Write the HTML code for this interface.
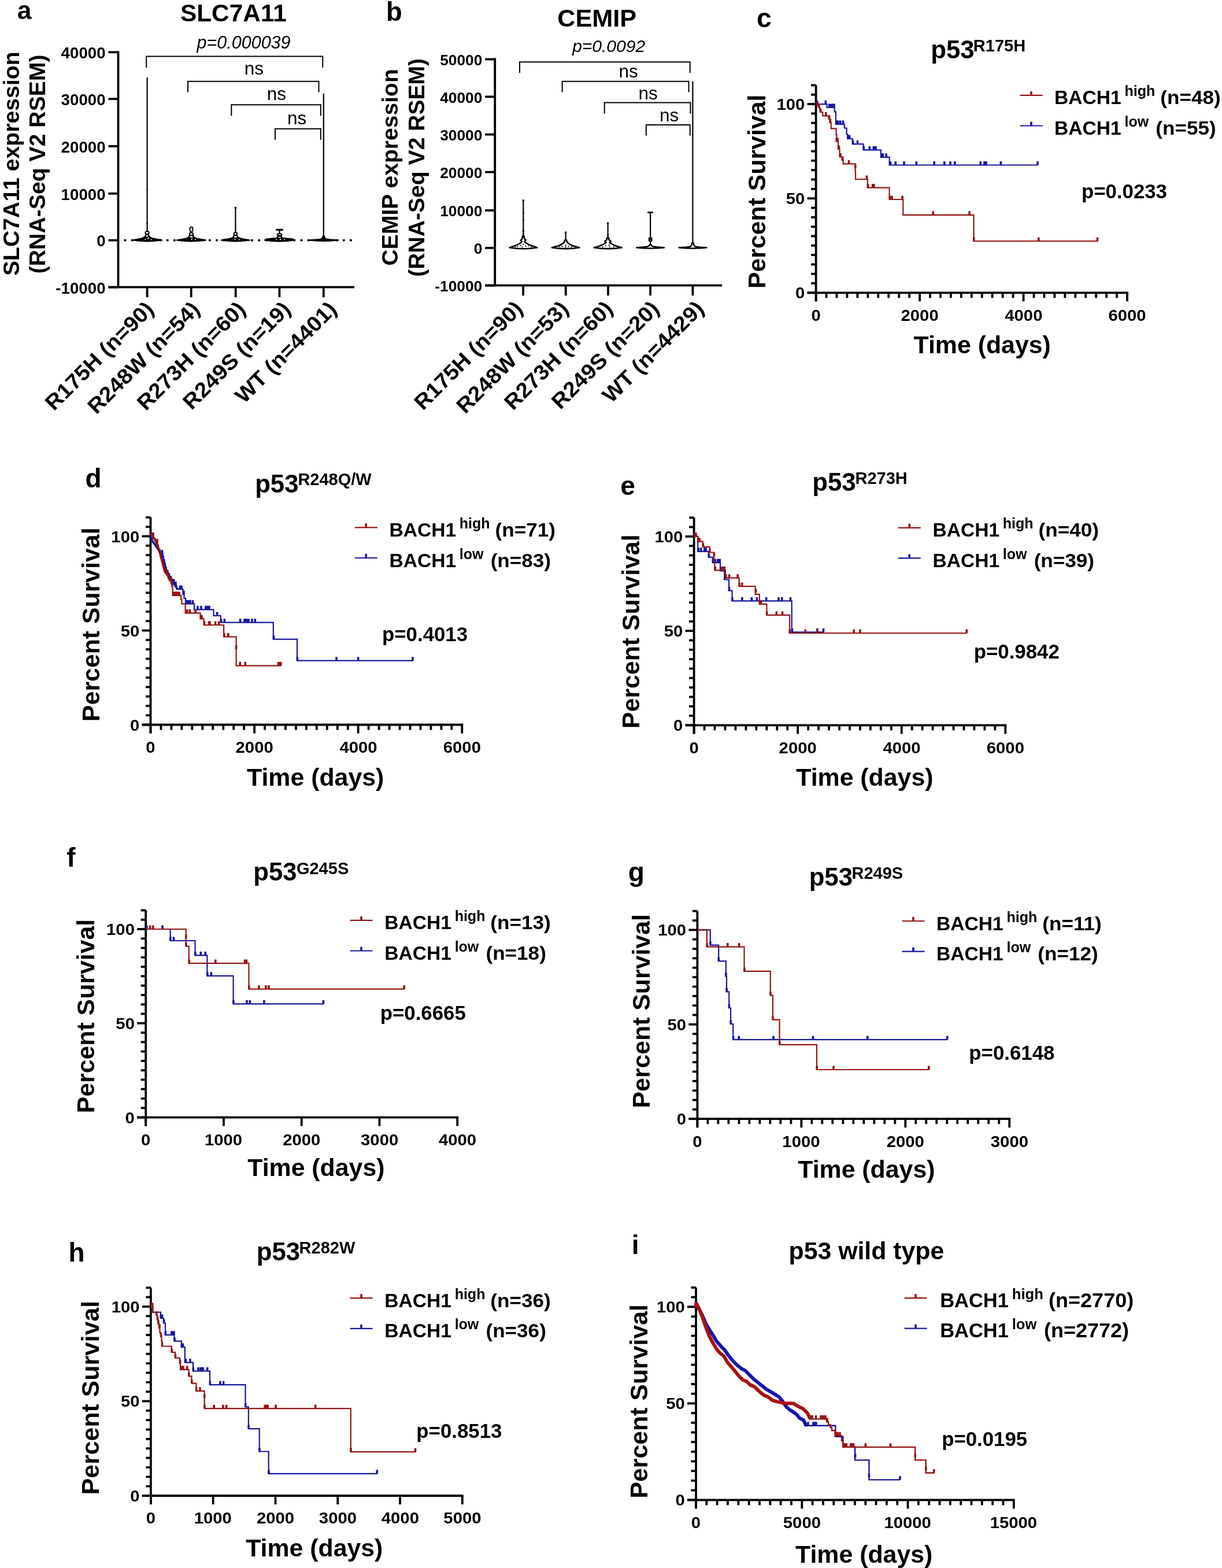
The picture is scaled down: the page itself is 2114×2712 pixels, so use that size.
<!DOCTYPE html>
<html><head><meta charset="utf-8"><title>Figure</title>
<style>
html,body{margin:0;padding:0;background:#fff;overflow:hidden;}
svg{display:block;}
text{font-family:"Liberation Sans",Arial,Helvetica,sans-serif;}
</style></head><body>
<svg width="2114" height="2712" viewBox="0 0 2114 2712">
<rect width="2114" height="2712" fill="#fff"/>
<line x1="204.50" y1="88.40" x2="204.50" y2="496.70" stroke="#000" stroke-width="3.8" stroke-linecap="butt"/>
<line x1="187.50" y1="496.70" x2="613.00" y2="496.70" stroke="#000" stroke-width="3.8" stroke-linecap="butt"/>
<line x1="187.50" y1="496.70" x2="204.50" y2="496.70" stroke="#000" stroke-width="3.8" stroke-linecap="butt"/>
<text x="96.32" y="507.50" style="font-size:27.70px;font-weight:bold">-10000</text>
<line x1="187.50" y1="415.60" x2="204.50" y2="415.60" stroke="#000" stroke-width="3.8" stroke-linecap="butt"/>
<text x="167.23" y="426.40" style="font-size:27.70px;font-weight:bold">0</text>
<line x1="187.50" y1="334.80" x2="204.50" y2="334.80" stroke="#000" stroke-width="3.8" stroke-linecap="butt"/>
<text x="105.60" y="345.60" style="font-size:27.70px;font-weight:bold">10000</text>
<line x1="187.50" y1="252.90" x2="204.50" y2="252.90" stroke="#000" stroke-width="3.8" stroke-linecap="butt"/>
<text x="105.60" y="263.70" style="font-size:27.70px;font-weight:bold">20000</text>
<line x1="187.50" y1="171.10" x2="204.50" y2="171.10" stroke="#000" stroke-width="3.8" stroke-linecap="butt"/>
<text x="105.60" y="181.90" style="font-size:27.70px;font-weight:bold">30000</text>
<line x1="187.50" y1="90.30" x2="204.50" y2="90.30" stroke="#000" stroke-width="3.8" stroke-linecap="butt"/>
<text x="105.60" y="101.10" style="font-size:27.70px;font-weight:bold">40000</text>
<line x1="254.60" y1="496.70" x2="254.60" y2="514.20" stroke="#000" stroke-width="3.8" stroke-linecap="butt"/>
<line x1="330.70" y1="496.70" x2="330.70" y2="514.20" stroke="#000" stroke-width="3.8" stroke-linecap="butt"/>
<line x1="407.70" y1="496.70" x2="407.70" y2="514.20" stroke="#000" stroke-width="3.8" stroke-linecap="butt"/>
<line x1="483.40" y1="496.70" x2="483.40" y2="514.20" stroke="#000" stroke-width="3.8" stroke-linecap="butt"/>
<line x1="559.80" y1="496.70" x2="559.80" y2="514.20" stroke="#000" stroke-width="3.8" stroke-linecap="butt"/>
<text transform="translate(268.10,537.00) rotate(-45) scale(1.0500,1)" text-anchor="end" style="font-size:37.00px;font-weight:bold">R175H (n=90)</text>
<text transform="translate(347.60,537.00) rotate(-45) scale(1.0500,1)" text-anchor="end" style="font-size:37.00px;font-weight:bold">R248W (n=54)</text>
<text transform="translate(426.90,537.00) rotate(-45) scale(1.0500,1)" text-anchor="end" style="font-size:37.00px;font-weight:bold">R273H (n=60)</text>
<text transform="translate(504.80,537.00) rotate(-45) scale(1.0500,1)" text-anchor="end" style="font-size:37.00px;font-weight:bold">R249S (n=19)</text>
<text transform="translate(584.60,537.00) rotate(-45) scale(1.0500,1)" text-anchor="end" style="font-size:37.00px;font-weight:bold">WT (n=4401)</text>
<text transform="translate(33.00,477.05) rotate(-90)" style="font-size:39.20px;font-weight:bold">SLC7A11 expression</text>
<text transform="translate(78.30,473.23) rotate(-90)" style="font-size:39.20px;font-weight:bold">(RNA-Seq V2 RSEM)</text>
<text x="29.66" y="32.60" style="font-size:44.50px;font-weight:bold" fill="#000">a</text>
<text x="311.93" y="37.10" style="font-size:42.40px;font-weight:bold" fill="#000">SLC7A11</text>
<text x="340.56" y="84.00" style="font-size:30.50px;font-style:italic" fill="#000">p=0.000039</text>
<path d="M253.2,117.0 L253.2,97.6 L558.2,97.6 L558.2,117.0" stroke="#000" stroke-width="2.0" fill="none" />
<path d="M325.0,159.6 L325.0,140.7 L551.5,140.7 L551.5,159.6" stroke="#000" stroke-width="2.0" fill="none" />
<path d="M400.3,200.3 L400.3,181.3 L554.8,181.3 L554.8,200.3" stroke="#000" stroke-width="2.0" fill="none" />
<path d="M476.0,241.8 L476.0,222.8 L554.8,222.8 L554.8,241.8" stroke="#000" stroke-width="2.0" fill="none" />
<text x="422.85" y="128.70" style="font-size:31.50px;font-weight:normal" fill="#000">ns</text>
<text x="461.85" y="173.40" style="font-size:31.50px;font-weight:normal" fill="#000">ns</text>
<text x="496.95" y="215.10" style="font-size:31.50px;font-weight:normal" fill="#000">ns</text>
<line x1="856.20" y1="100.60" x2="856.20" y2="493.70" stroke="#000" stroke-width="3.8" stroke-linecap="butt"/>
<line x1="839.20" y1="493.70" x2="1249.00" y2="493.70" stroke="#000" stroke-width="3.8" stroke-linecap="butt"/>
<line x1="839.20" y1="493.70" x2="856.20" y2="493.70" stroke="#000" stroke-width="3.8" stroke-linecap="butt"/>
<text x="752.33" y="503.96" style="font-size:26.30px;font-weight:bold">-10000</text>
<line x1="839.20" y1="428.80" x2="856.20" y2="428.80" stroke="#000" stroke-width="3.8" stroke-linecap="butt"/>
<text x="819.66" y="439.06" style="font-size:26.30px;font-weight:bold">0</text>
<line x1="839.20" y1="363.90" x2="856.20" y2="363.90" stroke="#000" stroke-width="3.8" stroke-linecap="butt"/>
<text x="761.14" y="374.16" style="font-size:26.30px;font-weight:bold">10000</text>
<line x1="839.20" y1="297.60" x2="856.20" y2="297.60" stroke="#000" stroke-width="3.8" stroke-linecap="butt"/>
<text x="761.14" y="307.86" style="font-size:26.30px;font-weight:bold">20000</text>
<line x1="839.20" y1="232.60" x2="856.20" y2="232.60" stroke="#000" stroke-width="3.8" stroke-linecap="butt"/>
<text x="761.14" y="242.86" style="font-size:26.30px;font-weight:bold">30000</text>
<line x1="839.20" y1="167.30" x2="856.20" y2="167.30" stroke="#000" stroke-width="3.8" stroke-linecap="butt"/>
<text x="761.14" y="177.56" style="font-size:26.30px;font-weight:bold">40000</text>
<line x1="839.20" y1="102.50" x2="856.20" y2="102.50" stroke="#000" stroke-width="3.8" stroke-linecap="butt"/>
<text x="761.14" y="112.76" style="font-size:26.30px;font-weight:bold">50000</text>
<line x1="905.10" y1="493.70" x2="905.10" y2="511.20" stroke="#000" stroke-width="3.8" stroke-linecap="butt"/>
<line x1="978.70" y1="493.70" x2="978.70" y2="511.20" stroke="#000" stroke-width="3.8" stroke-linecap="butt"/>
<line x1="1052.00" y1="493.70" x2="1052.00" y2="511.20" stroke="#000" stroke-width="3.8" stroke-linecap="butt"/>
<line x1="1125.10" y1="493.70" x2="1125.10" y2="511.20" stroke="#000" stroke-width="3.8" stroke-linecap="butt"/>
<line x1="1198.40" y1="493.70" x2="1198.40" y2="511.20" stroke="#000" stroke-width="3.8" stroke-linecap="butt"/>
<text transform="translate(906.40,536.20) rotate(-45) scale(1.0500,1)" text-anchor="end" style="font-size:37.00px;font-weight:bold">R175H (n=90)</text>
<text transform="translate(985.60,536.20) rotate(-45) scale(1.0500,1)" text-anchor="end" style="font-size:37.00px;font-weight:bold">R248W (n=53)</text>
<text transform="translate(1062.20,536.20) rotate(-45) scale(1.0500,1)" text-anchor="end" style="font-size:37.00px;font-weight:bold">R273H (n=60)</text>
<text transform="translate(1142.50,536.20) rotate(-45) scale(1.0500,1)" text-anchor="end" style="font-size:37.00px;font-weight:bold">R249S (n=20)</text>
<text transform="translate(1219.80,536.20) rotate(-45) scale(1.0500,1)" text-anchor="end" style="font-size:37.00px;font-weight:bold">WT (n=4429)</text>
<text transform="translate(688.00,459.39) rotate(-90)" style="font-size:39.10px;font-weight:bold">CEMIP expression</text>
<text transform="translate(734.30,478.65) rotate(-90)" style="font-size:39.10px;font-weight:bold">(RNA-Seq V2 RSEM)</text>
<text x="668.06" y="36.40" style="font-size:45.30px;font-weight:bold" fill="#000">b</text>
<text x="964.27" y="45.50" style="font-size:43.20px;font-weight:bold" fill="#000">CEMIP</text>
<text x="990.15" y="90.10" style="font-size:30.00px;font-style:italic" fill="#000">p=0.0092</text>
<path d="M899.0,126.1 L899.0,107.2 L1193.7,107.2 L1193.7,126.1" stroke="#000" stroke-width="2.0" fill="none" />
<path d="M972.7,159.6 L972.7,140.7 L1191.5,140.7 L1191.5,159.6" stroke="#000" stroke-width="2.0" fill="none" />
<path d="M1045.7,196.5 L1045.7,177.5 L1194.4,177.5 L1194.4,196.5" stroke="#000" stroke-width="2.0" fill="none" />
<path d="M1117.8,234.4 L1117.8,216.1 L1193.7,216.1 L1193.7,234.4" stroke="#000" stroke-width="2.0" fill="none" />
<text x="1070.45" y="133.70" style="font-size:31.50px;font-weight:normal" fill="#000">ns</text>
<text x="1104.55" y="171.60" style="font-size:31.50px;font-weight:normal" fill="#000">ns</text>
<text x="1140.95" y="209.60" style="font-size:31.50px;font-weight:normal" fill="#000">ns</text>
<circle cx="216.5" cy="415.6" r="2.1" fill="#000"/>
<circle cx="228.7" cy="415.6" r="2.1" fill="#000"/>
<circle cx="240.9" cy="415.6" r="2.1" fill="#000"/>
<circle cx="253.1" cy="415.6" r="2.1" fill="#000"/>
<circle cx="265.3" cy="415.6" r="2.1" fill="#000"/>
<circle cx="277.5" cy="415.6" r="2.1" fill="#000"/>
<circle cx="289.7" cy="415.6" r="2.1" fill="#000"/>
<circle cx="301.9" cy="415.6" r="2.1" fill="#000"/>
<circle cx="314.1" cy="415.6" r="2.1" fill="#000"/>
<circle cx="326.3" cy="415.6" r="2.1" fill="#000"/>
<circle cx="338.5" cy="415.6" r="2.1" fill="#000"/>
<circle cx="350.7" cy="415.6" r="2.1" fill="#000"/>
<circle cx="362.9" cy="415.6" r="2.1" fill="#000"/>
<circle cx="375.1" cy="415.6" r="2.1" fill="#000"/>
<circle cx="387.3" cy="415.6" r="2.1" fill="#000"/>
<circle cx="399.5" cy="415.6" r="2.1" fill="#000"/>
<circle cx="411.7" cy="415.6" r="2.1" fill="#000"/>
<circle cx="423.9" cy="415.6" r="2.1" fill="#000"/>
<circle cx="436.1" cy="415.6" r="2.1" fill="#000"/>
<circle cx="448.3" cy="415.6" r="2.1" fill="#000"/>
<circle cx="460.5" cy="415.6" r="2.1" fill="#000"/>
<circle cx="472.7" cy="415.6" r="2.1" fill="#000"/>
<circle cx="484.9" cy="415.6" r="2.1" fill="#000"/>
<circle cx="497.1" cy="415.6" r="2.1" fill="#000"/>
<circle cx="509.3" cy="415.6" r="2.1" fill="#000"/>
<circle cx="521.5" cy="415.6" r="2.1" fill="#000"/>
<circle cx="533.7" cy="415.6" r="2.1" fill="#000"/>
<circle cx="545.9" cy="415.6" r="2.1" fill="#000"/>
<circle cx="558.1" cy="415.6" r="2.1" fill="#000"/>
<circle cx="570.3" cy="415.6" r="2.1" fill="#000"/>
<circle cx="582.5" cy="415.6" r="2.1" fill="#000"/>
<circle cx="594.7" cy="415.6" r="2.1" fill="#000"/>
<circle cx="606.9" cy="415.6" r="2.1" fill="#000"/>
<path d="M229.1,415.4 Q254.6,419.0 280.1,415.4 L270.6,413.8 L263.6,412.4 L259.6,410.4 L257.2,407.9 L256.0,405.4 L253.2,405.4 L252.0,407.9 L249.6,410.4 L245.6,412.4 L238.6,413.8 Z" fill="#000" stroke="#000" stroke-width="2.4" stroke-linejoin="round"/><line x1="254.6" y1="405.4" x2="254.6" y2="134.0" stroke="#000" stroke-width="2.2"/>
<circle cx="256.5" cy="412.0" r="1.4" fill="#fff"/>
<circle cx="251.5" cy="414.0" r="1.0" fill="#fff"/>
<circle cx="262.0" cy="414.5" r="1.0" fill="#fff"/>
<ellipse cx="254.6" cy="402.6" rx="3.2" ry="2.6" fill="#fff" stroke="#000" stroke-width="2.0"/>
<ellipse cx="254.6" cy="408.0" rx="2.6" ry="2.6" fill="#fff" stroke="#000" stroke-width="2.0"/>
<circle cx="254.6" cy="386.2" r="1.4" fill="#000"/>
<circle cx="254.6" cy="327.5" r="1.2" fill="#000"/>
<path d="M306.0,415.4 Q331.0,419.0 356.0,415.4 L346.0,413.8 L339.0,412.4 L335.5,410.4 L333.5,406.4 L332.5,402.9 L329.5,402.9 L328.5,406.4 L326.5,410.4 L323.0,412.4 L316.0,413.8 Z" fill="#000" stroke="#000" stroke-width="2.4" stroke-linejoin="round"/>
<circle cx="331.5" cy="413.0" r="1.5" fill="#fff"/>
<circle cx="338.0" cy="414.5" r="1.0" fill="#fff"/>
<ellipse cx="331.0" cy="396.8" rx="2.6" ry="4.2" fill="#fff" stroke="#000" stroke-width="2.0"/>
<ellipse cx="331.0" cy="405.0" rx="3.0" ry="2.4" fill="#fff" stroke="#000" stroke-width="2.0"/>
<ellipse cx="331.0" cy="409.5" rx="3.6" ry="2.2" fill="#fff" stroke="#000" stroke-width="2.0"/>
<path d="M382.9,415.4 Q407.4,419.0 431.9,415.4 L422.4,413.8 L415.9,412.4 L412.4,411.2 L409.4,408.9 L408.7,406.4 L406.1,406.4 L405.4,408.9 L402.4,411.2 L398.9,412.4 L392.4,413.8 Z" fill="#000" stroke="#000" stroke-width="2.4" stroke-linejoin="round"/><line x1="407.4" y1="406.4" x2="407.4" y2="359.0" stroke="#000" stroke-width="2.2"/>
<circle cx="406.5" cy="413.0" r="1.5" fill="#fff"/>
<circle cx="414.0" cy="414.5" r="1.0" fill="#fff"/>
<ellipse cx="407.4" cy="404.5" rx="2.8" ry="2.4" fill="#fff" stroke="#000" stroke-width="2.0"/>
<ellipse cx="407.4" cy="409.4" rx="3.6" ry="2.4" fill="#fff" stroke="#000" stroke-width="2.0"/>
<circle cx="407.4" cy="359.2" r="1.8" fill="#000"/>
<path d="M458.1,415.4 Q483.6,419.4 509.1,415.4 L505.6,413.4 L494.6,412.4 L488.6,412.0 L485.6,411.4 L484.8,410.4 L482.4,410.4 L481.6,411.4 L478.6,412.0 L472.6,412.4 L461.6,413.4 Z" fill="#000" stroke="#000" stroke-width="2.4" stroke-linejoin="round"/><line x1="483.6" y1="410.4" x2="483.6" y2="397.6" stroke="#000" stroke-width="2.2"/>
<circle cx="485.0" cy="414.0" r="1.2" fill="#fff"/>
<circle cx="478.0" cy="414.2" r="1.0" fill="#fff"/>
<circle cx="492.0" cy="414.2" r="1.0" fill="#fff"/>
<line x1="478.8" y1="397.4" x2="488.4" y2="397.4" stroke="#000" stroke-width="3.2" stroke-linecap="round"/>
<ellipse cx="483.6" cy="405.7" rx="4.0" ry="1.8" fill="#fff" stroke="#000" stroke-width="2.0"/>
<ellipse cx="483.6" cy="410.2" rx="4.0" ry="1.8" fill="#fff" stroke="#000" stroke-width="2.0"/>
<path d="M534.3,415.4 Q559.8,418.2 585.3,415.4 L571.8,414.4 L564.8,413.6 L562.0,411.9 L561.0,408.4 L558.6,408.4 L557.6,411.9 L554.8,413.6 L547.8,414.4 Z" fill="#000" stroke="#000" stroke-width="2.2" stroke-linejoin="round"/><line x1="559.8" y1="408.4" x2="559.8" y2="161.9" stroke="#000" stroke-width="2.2"/>
<path d="M881.5,428.2 Q905.3,432.4 929.1,428.2 L921.3,425.6 L914.3,422.6 L909.5,419.9 L907.5,417.7 L909.9,415.5 L907.3,413.0 L906.6,408.2 L904.0,408.2 L903.3,413.0 L900.7,415.5 L903.1,417.7 L901.1,419.9 L896.3,422.6 L889.3,425.6 Z" fill="#fff" stroke="#000" stroke-width="2.6" stroke-linejoin="round"/><line x1="905.3" y1="408.2" x2="905.3" y2="345.9" stroke="#000" stroke-width="2.2"/>
<circle cx="895.3" cy="426.2" r="1.1" fill="#000"/>
<circle cx="900.3" cy="424.7" r="1.1" fill="#000"/>
<circle cx="905.3" cy="422.7" r="1.1" fill="#000"/>
<circle cx="909.3" cy="425.7" r="1.1" fill="#000"/>
<circle cx="914.3" cy="425.2" r="1.1" fill="#000"/>
<circle cx="903.3" cy="427.0" r="1.1" fill="#000"/>
<circle cx="919.3" cy="426.7" r="1.1" fill="#000"/>
<circle cx="891.3" cy="426.7" r="1.1" fill="#000"/>
<circle cx="905.3" cy="399.4" r="1.8" fill="#000"/>
<circle cx="905.3" cy="380.0" r="1.6" fill="#000"/>
<circle cx="905.3" cy="368.0" r="1.5" fill="#000"/>
<circle cx="905.3" cy="346.8" r="1.8" fill="#000"/>
<circle cx="905.3" cy="404.4" r="1.6" fill="#000"/>
<path d="M954.8,428.2 Q978.6,432.0 1002.4,428.2 L991.6,425.3 L984.6,422.0 L981.0,418.7 L980.0,415.2 L977.2,415.2 L976.2,418.7 L972.6,422.0 L965.6,425.3 Z" fill="#fff" stroke="#000" stroke-width="2.6" stroke-linejoin="round"/><line x1="978.6" y1="415.2" x2="978.6" y2="401.1" stroke="#000" stroke-width="2.2"/>
<circle cx="972.6" cy="426.2" r="1.1" fill="#000"/>
<circle cx="978.6" cy="424.2" r="1.1" fill="#000"/>
<circle cx="983.6" cy="426.2" r="1.1" fill="#000"/>
<circle cx="978.6" cy="427.2" r="1.1" fill="#000"/>
<circle cx="967.6" cy="426.7" r="1.1" fill="#000"/>
<circle cx="988.6" cy="426.9" r="1.1" fill="#000"/>
<circle cx="978.6" cy="402.0" r="1.8" fill="#000"/>
<path d="M1027.6,428.2 Q1051.6,432.0 1075.6,428.2 L1065.6,425.5 L1059.1,422.4 L1054.6,419.6 L1057.0,417.2 L1053.6,414.8 L1052.9,411.2 L1050.3,411.2 L1049.6,414.8 L1046.2,417.2 L1048.6,419.6 L1044.1,422.4 L1037.6,425.5 Z" fill="#fff" stroke="#000" stroke-width="2.6" stroke-linejoin="round"/><line x1="1051.6" y1="411.2" x2="1051.6" y2="385.3" stroke="#000" stroke-width="2.2"/>
<circle cx="1047.6" cy="425.2" r="1.1" fill="#000"/>
<circle cx="1053.6" cy="423.7" r="1.1" fill="#000"/>
<circle cx="1054.6" cy="426.6" r="1.1" fill="#000"/>
<circle cx="1042.6" cy="427.0" r="1.1" fill="#000"/>
<circle cx="1061.6" cy="426.8" r="1.1" fill="#000"/>
<circle cx="1051.6" cy="386.0" r="1.8" fill="#000"/>
<circle cx="1051.6" cy="406.5" r="1.5" fill="#000"/>
<path d="M1101.1,428.2 Q1125.1,430.8 1149.1,428.2 L1137.1,427.3 L1130.1,426.5 L1127.6,425.2 L1126.4,423.2 L1123.8,423.2 L1122.6,425.2 L1120.1,426.5 L1113.1,427.3 Z" fill="#fff" stroke="#000" stroke-width="2.4" stroke-linejoin="round"/><line x1="1125.1" y1="423.2" x2="1125.1" y2="367.3" stroke="#000" stroke-width="2.2"/>
<line x1="1121.4" y1="367.4" x2="1128.8" y2="367.4" stroke="#000" stroke-width="2.8" stroke-linecap="round"/>
<ellipse cx="1125.1" cy="412.6" rx="2.6" ry="1.4" fill="#fff" stroke="#000" stroke-width="2.0"/>
<ellipse cx="1125.1" cy="415.8" rx="2.6" ry="1.4" fill="#fff" stroke="#000" stroke-width="2.0"/>
<path d="M1174.4,428.2 Q1198.4,430.8 1222.4,428.2 L1210.4,427.4 L1203.4,426.7 L1200.6,424.7 L1199.6,420.2 L1197.2,420.2 L1196.2,424.7 L1193.4,426.7 L1186.4,427.4 Z" fill="#fff" stroke="#000" stroke-width="2.4" stroke-linejoin="round"/><line x1="1198.4" y1="420.2" x2="1198.4" y2="140.7" stroke="#000" stroke-width="2.2"/>
<line x1="1411.60" y1="147.37" x2="1411.60" y2="521.30" stroke="#000" stroke-width="3.8" stroke-linecap="butt"/>
<line x1="1396.60" y1="506.30" x2="1951.90" y2="506.30" stroke="#000" stroke-width="3.8" stroke-linecap="butt"/>
<line x1="1396.60" y1="506.30" x2="1411.60" y2="506.30" stroke="#000" stroke-width="3.8" stroke-linecap="butt"/>
<line x1="1403.10" y1="489.99" x2="1411.60" y2="489.99" stroke="#000" stroke-width="3.8" stroke-linecap="butt"/>
<line x1="1403.10" y1="473.67" x2="1411.60" y2="473.67" stroke="#000" stroke-width="3.8" stroke-linecap="butt"/>
<line x1="1403.10" y1="457.36" x2="1411.60" y2="457.36" stroke="#000" stroke-width="3.8" stroke-linecap="butt"/>
<line x1="1403.10" y1="441.04" x2="1411.60" y2="441.04" stroke="#000" stroke-width="3.8" stroke-linecap="butt"/>
<line x1="1403.10" y1="424.73" x2="1411.60" y2="424.73" stroke="#000" stroke-width="3.8" stroke-linecap="butt"/>
<line x1="1403.10" y1="408.41" x2="1411.60" y2="408.41" stroke="#000" stroke-width="3.8" stroke-linecap="butt"/>
<line x1="1403.10" y1="392.10" x2="1411.60" y2="392.10" stroke="#000" stroke-width="3.8" stroke-linecap="butt"/>
<line x1="1403.10" y1="375.78" x2="1411.60" y2="375.78" stroke="#000" stroke-width="3.8" stroke-linecap="butt"/>
<line x1="1403.10" y1="359.47" x2="1411.60" y2="359.47" stroke="#000" stroke-width="3.8" stroke-linecap="butt"/>
<line x1="1396.60" y1="343.15" x2="1411.60" y2="343.15" stroke="#000" stroke-width="3.8" stroke-linecap="butt"/>
<line x1="1403.10" y1="326.84" x2="1411.60" y2="326.84" stroke="#000" stroke-width="3.8" stroke-linecap="butt"/>
<line x1="1403.10" y1="310.52" x2="1411.60" y2="310.52" stroke="#000" stroke-width="3.8" stroke-linecap="butt"/>
<line x1="1403.10" y1="294.21" x2="1411.60" y2="294.21" stroke="#000" stroke-width="3.8" stroke-linecap="butt"/>
<line x1="1403.10" y1="277.89" x2="1411.60" y2="277.89" stroke="#000" stroke-width="3.8" stroke-linecap="butt"/>
<line x1="1403.10" y1="261.58" x2="1411.60" y2="261.58" stroke="#000" stroke-width="3.8" stroke-linecap="butt"/>
<line x1="1403.10" y1="245.26" x2="1411.60" y2="245.26" stroke="#000" stroke-width="3.8" stroke-linecap="butt"/>
<line x1="1403.10" y1="228.94" x2="1411.60" y2="228.94" stroke="#000" stroke-width="3.8" stroke-linecap="butt"/>
<line x1="1403.10" y1="212.63" x2="1411.60" y2="212.63" stroke="#000" stroke-width="3.8" stroke-linecap="butt"/>
<line x1="1403.10" y1="196.31" x2="1411.60" y2="196.31" stroke="#000" stroke-width="3.8" stroke-linecap="butt"/>
<line x1="1396.60" y1="180.00" x2="1411.60" y2="180.00" stroke="#000" stroke-width="3.8" stroke-linecap="butt"/>
<line x1="1403.10" y1="163.69" x2="1411.60" y2="163.69" stroke="#000" stroke-width="3.8" stroke-linecap="butt"/>
<line x1="1403.10" y1="147.37" x2="1411.60" y2="147.37" stroke="#000" stroke-width="3.8" stroke-linecap="butt"/>
<line x1="1411.60" y1="506.30" x2="1411.60" y2="521.30" stroke="#000" stroke-width="3.8" stroke-linecap="butt"/>
<line x1="1429.55" y1="506.30" x2="1429.55" y2="515.30" stroke="#000" stroke-width="3.8" stroke-linecap="butt"/>
<line x1="1447.49" y1="506.30" x2="1447.49" y2="515.30" stroke="#000" stroke-width="3.8" stroke-linecap="butt"/>
<line x1="1465.44" y1="506.30" x2="1465.44" y2="515.30" stroke="#000" stroke-width="3.8" stroke-linecap="butt"/>
<line x1="1483.39" y1="506.30" x2="1483.39" y2="515.30" stroke="#000" stroke-width="3.8" stroke-linecap="butt"/>
<line x1="1501.33" y1="506.30" x2="1501.33" y2="515.30" stroke="#000" stroke-width="3.8" stroke-linecap="butt"/>
<line x1="1519.28" y1="506.30" x2="1519.28" y2="515.30" stroke="#000" stroke-width="3.8" stroke-linecap="butt"/>
<line x1="1537.23" y1="506.30" x2="1537.23" y2="515.30" stroke="#000" stroke-width="3.8" stroke-linecap="butt"/>
<line x1="1555.17" y1="506.30" x2="1555.17" y2="515.30" stroke="#000" stroke-width="3.8" stroke-linecap="butt"/>
<line x1="1573.12" y1="506.30" x2="1573.12" y2="515.30" stroke="#000" stroke-width="3.8" stroke-linecap="butt"/>
<line x1="1591.07" y1="506.30" x2="1591.07" y2="521.30" stroke="#000" stroke-width="3.8" stroke-linecap="butt"/>
<line x1="1609.01" y1="506.30" x2="1609.01" y2="515.30" stroke="#000" stroke-width="3.8" stroke-linecap="butt"/>
<line x1="1626.96" y1="506.30" x2="1626.96" y2="515.30" stroke="#000" stroke-width="3.8" stroke-linecap="butt"/>
<line x1="1644.91" y1="506.30" x2="1644.91" y2="515.30" stroke="#000" stroke-width="3.8" stroke-linecap="butt"/>
<line x1="1662.85" y1="506.30" x2="1662.85" y2="515.30" stroke="#000" stroke-width="3.8" stroke-linecap="butt"/>
<line x1="1680.80" y1="506.30" x2="1680.80" y2="515.30" stroke="#000" stroke-width="3.8" stroke-linecap="butt"/>
<line x1="1698.75" y1="506.30" x2="1698.75" y2="515.30" stroke="#000" stroke-width="3.8" stroke-linecap="butt"/>
<line x1="1716.69" y1="506.30" x2="1716.69" y2="515.30" stroke="#000" stroke-width="3.8" stroke-linecap="butt"/>
<line x1="1734.64" y1="506.30" x2="1734.64" y2="515.30" stroke="#000" stroke-width="3.8" stroke-linecap="butt"/>
<line x1="1752.59" y1="506.30" x2="1752.59" y2="515.30" stroke="#000" stroke-width="3.8" stroke-linecap="butt"/>
<line x1="1770.53" y1="506.30" x2="1770.53" y2="521.30" stroke="#000" stroke-width="3.8" stroke-linecap="butt"/>
<line x1="1788.48" y1="506.30" x2="1788.48" y2="515.30" stroke="#000" stroke-width="3.8" stroke-linecap="butt"/>
<line x1="1806.43" y1="506.30" x2="1806.43" y2="515.30" stroke="#000" stroke-width="3.8" stroke-linecap="butt"/>
<line x1="1824.37" y1="506.30" x2="1824.37" y2="515.30" stroke="#000" stroke-width="3.8" stroke-linecap="butt"/>
<line x1="1842.32" y1="506.30" x2="1842.32" y2="515.30" stroke="#000" stroke-width="3.8" stroke-linecap="butt"/>
<line x1="1860.27" y1="506.30" x2="1860.27" y2="515.30" stroke="#000" stroke-width="3.8" stroke-linecap="butt"/>
<line x1="1878.21" y1="506.30" x2="1878.21" y2="515.30" stroke="#000" stroke-width="3.8" stroke-linecap="butt"/>
<line x1="1896.16" y1="506.30" x2="1896.16" y2="515.30" stroke="#000" stroke-width="3.8" stroke-linecap="butt"/>
<line x1="1914.11" y1="506.30" x2="1914.11" y2="515.30" stroke="#000" stroke-width="3.8" stroke-linecap="butt"/>
<line x1="1932.05" y1="506.30" x2="1932.05" y2="515.30" stroke="#000" stroke-width="3.8" stroke-linecap="butt"/>
<line x1="1950.00" y1="506.30" x2="1950.00" y2="521.30" stroke="#000" stroke-width="3.8" stroke-linecap="butt"/>
<text transform="translate(1376.00,516.30) scale(1.0700,1)" style="font-size:27.40px;font-weight:bold">0</text>
<text transform="translate(1359.73,353.15) scale(1.0700,1)" style="font-size:27.40px;font-weight:bold">50</text>
<text transform="translate(1343.46,190.00) scale(1.0700,1)" style="font-size:27.40px;font-weight:bold">100</text>
<text transform="translate(1403.46,554.60) scale(1.0700,1)" style="font-size:27.40px;font-weight:bold">0</text>
<text transform="translate(1558.52,554.60) scale(1.0700,1)" style="font-size:27.40px;font-weight:bold">2000</text>
<text transform="translate(1738.28,554.60) scale(1.0700,1)" style="font-size:27.40px;font-weight:bold">4000</text>
<text transform="translate(1917.46,554.60) scale(1.0700,1)" style="font-size:27.40px;font-weight:bold">6000</text>
<text transform="translate(1580.57,610.80) scale(1.0200,1)" style="font-size:42.00px;font-weight:bold" fill="#000">Time (days)</text>
<text transform="translate(1324.40,499.08) rotate(-90)" style="font-size:42.80px;font-weight:bold">Percent Survival</text>
<text x="1308.94" y="47.20" style="font-size:46.50px;font-weight:bold" fill="#000">c</text>
<text x="1610.36" y="101.10" style="font-size:43.70px;font-weight:bold" fill="#000">p53</text>
<text x="1683.82" y="88.60" style="font-size:29.00px;font-weight:bold" fill="#000">R175H</text>
<line x1="1764.50" y1="164.90" x2="1803.50" y2="164.90" stroke="#951414" stroke-width="2.2" stroke-linecap="butt"/>
<line x1="1783.90" y1="157.90" x2="1783.90" y2="164.90" stroke="#951414" stroke-width="3.6" stroke-linecap="butt"/>
<text x="1824.12" y="180.40" style="font-size:33.60px;font-weight:bold" fill="#000">BACH1</text>
<text x="1945.55" y="166.40" style="font-size:25.00px;font-weight:bold" fill="#000">high</text>
<text transform="translate(2007.24,180.40) scale(1.0450,1)" style="font-size:33.60px;font-weight:bold" fill="#000">(n=48)</text>
<line x1="1764.50" y1="217.50" x2="1803.50" y2="217.50" stroke="#18189e" stroke-width="2.2" stroke-linecap="butt"/>
<line x1="1783.90" y1="210.50" x2="1783.90" y2="217.50" stroke="#18189e" stroke-width="3.6" stroke-linecap="butt"/>
<text x="1824.12" y="233.00" style="font-size:33.60px;font-weight:bold" fill="#000">BACH1</text>
<text x="1945.55" y="219.00" style="font-size:25.00px;font-weight:bold" fill="#000">low</text>
<text transform="translate(1999.34,233.00) scale(1.0450,1)" style="font-size:33.60px;font-weight:bold" fill="#000">(n=55)</text>
<text x="1870.94" y="342.80" style="font-size:34.80px;font-weight:bold" fill="#000">p=0.0233</text>
<path d="M1411.6,180.2 L1430.5,180.2 L1430.5,186.0 L1443.7,186.0 L1443.7,193.4 L1445.9,193.4 L1445.9,214.9 L1460.7,214.9 L1460.7,221.5 L1464.6,221.5 L1464.6,232.0 L1466.2,232.0 L1466.2,240.0 L1474.7,240.0 L1474.7,249.2 L1493.7,249.2 L1493.7,259.3 L1523.8,259.3 L1523.8,271.8 L1538.6,271.8 L1538.6,285.5 L1795.1,285.5" stroke="#18189e" stroke-width="2.2" fill="none" stroke-linejoin="miter"/>
<line x1="1413.50" y1="173.70" x2="1413.50" y2="180.20" stroke="#18189e" stroke-width="3.6" stroke-linecap="butt"/>
<line x1="1428.30" y1="173.70" x2="1428.30" y2="180.20" stroke="#18189e" stroke-width="3.6" stroke-linecap="butt"/>
<line x1="1434.60" y1="179.50" x2="1434.60" y2="186.00" stroke="#18189e" stroke-width="3.6" stroke-linecap="butt"/>
<line x1="1437.60" y1="179.50" x2="1437.60" y2="186.00" stroke="#18189e" stroke-width="3.6" stroke-linecap="butt"/>
<line x1="1440.60" y1="179.50" x2="1440.60" y2="186.00" stroke="#18189e" stroke-width="3.6" stroke-linecap="butt"/>
<line x1="1443.00" y1="179.50" x2="1443.00" y2="186.00" stroke="#18189e" stroke-width="3.6" stroke-linecap="butt"/>
<line x1="1447.80" y1="208.40" x2="1447.80" y2="214.90" stroke="#18189e" stroke-width="3.6" stroke-linecap="butt"/>
<line x1="1449.80" y1="208.40" x2="1449.80" y2="214.90" stroke="#18189e" stroke-width="3.6" stroke-linecap="butt"/>
<line x1="1453.60" y1="208.40" x2="1453.60" y2="214.90" stroke="#18189e" stroke-width="3.6" stroke-linecap="butt"/>
<line x1="1458.50" y1="208.40" x2="1458.50" y2="214.90" stroke="#18189e" stroke-width="3.6" stroke-linecap="butt"/>
<line x1="1466.80" y1="233.50" x2="1466.80" y2="240.00" stroke="#18189e" stroke-width="3.6" stroke-linecap="butt"/>
<line x1="1469.60" y1="233.50" x2="1469.60" y2="240.00" stroke="#18189e" stroke-width="3.6" stroke-linecap="butt"/>
<line x1="1475.50" y1="242.70" x2="1475.50" y2="249.20" stroke="#18189e" stroke-width="3.6" stroke-linecap="butt"/>
<line x1="1483.50" y1="242.70" x2="1483.50" y2="249.20" stroke="#18189e" stroke-width="3.6" stroke-linecap="butt"/>
<line x1="1494.30" y1="252.80" x2="1494.30" y2="259.30" stroke="#18189e" stroke-width="3.6" stroke-linecap="butt"/>
<line x1="1504.30" y1="252.80" x2="1504.30" y2="259.30" stroke="#18189e" stroke-width="3.6" stroke-linecap="butt"/>
<line x1="1511.30" y1="252.80" x2="1511.30" y2="259.30" stroke="#18189e" stroke-width="3.6" stroke-linecap="butt"/>
<line x1="1514.90" y1="252.80" x2="1514.90" y2="259.30" stroke="#18189e" stroke-width="3.6" stroke-linecap="butt"/>
<line x1="1525.00" y1="265.30" x2="1525.00" y2="271.80" stroke="#18189e" stroke-width="3.6" stroke-linecap="butt"/>
<line x1="1527.50" y1="265.30" x2="1527.50" y2="271.80" stroke="#18189e" stroke-width="3.6" stroke-linecap="butt"/>
<line x1="1533.20" y1="265.30" x2="1533.20" y2="271.80" stroke="#18189e" stroke-width="3.6" stroke-linecap="butt"/>
<line x1="1540.50" y1="279.00" x2="1540.50" y2="285.50" stroke="#18189e" stroke-width="3.6" stroke-linecap="butt"/>
<line x1="1549.30" y1="279.00" x2="1549.30" y2="285.50" stroke="#18189e" stroke-width="3.6" stroke-linecap="butt"/>
<line x1="1564.00" y1="279.00" x2="1564.00" y2="285.50" stroke="#18189e" stroke-width="3.6" stroke-linecap="butt"/>
<line x1="1585.30" y1="279.00" x2="1585.30" y2="285.50" stroke="#18189e" stroke-width="3.6" stroke-linecap="butt"/>
<line x1="1616.20" y1="279.00" x2="1616.20" y2="285.50" stroke="#18189e" stroke-width="3.6" stroke-linecap="butt"/>
<line x1="1633.80" y1="279.00" x2="1633.80" y2="285.50" stroke="#18189e" stroke-width="3.6" stroke-linecap="butt"/>
<line x1="1644.00" y1="279.00" x2="1644.00" y2="285.50" stroke="#18189e" stroke-width="3.6" stroke-linecap="butt"/>
<line x1="1651.80" y1="279.00" x2="1651.80" y2="285.50" stroke="#18189e" stroke-width="3.6" stroke-linecap="butt"/>
<line x1="1696.30" y1="279.00" x2="1696.30" y2="285.50" stroke="#18189e" stroke-width="3.6" stroke-linecap="butt"/>
<line x1="1703.00" y1="279.00" x2="1703.00" y2="285.50" stroke="#18189e" stroke-width="3.6" stroke-linecap="butt"/>
<line x1="1706.00" y1="279.00" x2="1706.00" y2="285.50" stroke="#18189e" stroke-width="3.6" stroke-linecap="butt"/>
<line x1="1731.30" y1="279.00" x2="1731.30" y2="285.50" stroke="#18189e" stroke-width="3.6" stroke-linecap="butt"/>
<line x1="1795.10" y1="279.00" x2="1795.10" y2="285.50" stroke="#18189e" stroke-width="3.6" stroke-linecap="butt"/>
<path d="M1411.6,180.2 L1413.8,180.2 L1413.8,182.5 L1416.0,182.5 L1416.0,186.0 L1418.2,186.0 L1418.2,190.0 L1419.5,190.0 L1419.5,194.0 L1423.3,194.0 L1423.3,200.4 L1433.8,200.4 L1433.8,206.0 L1435.6,206.0 L1435.6,212.0 L1437.7,212.0 L1437.7,222.3 L1446.5,222.3 L1446.5,233.0 L1447.5,233.0 L1447.5,245.0 L1450.0,245.0 L1450.0,258.0 L1452.5,258.0 L1452.5,271.5 L1456.5,271.5 L1456.5,277.0 L1458.5,277.0 L1458.5,283.4 L1479.5,283.4 L1479.5,296.0 L1480.0,296.0 L1480.0,310.0 L1500.8,310.0 L1500.8,324.6 L1538.6,324.6 L1538.6,345.0 L1562.3,345.0 L1562.3,371.8 L1684.5,371.8 L1684.5,417.0 L1899.2,417.0" stroke="#951414" stroke-width="2.2" fill="none" stroke-linejoin="miter"/>
<line x1="1414.50" y1="176.00" x2="1414.50" y2="182.50" stroke="#951414" stroke-width="3.6" stroke-linecap="butt"/>
<line x1="1416.80" y1="179.50" x2="1416.80" y2="186.00" stroke="#951414" stroke-width="3.6" stroke-linecap="butt"/>
<line x1="1419.50" y1="187.50" x2="1419.50" y2="194.00" stroke="#951414" stroke-width="3.6" stroke-linecap="butt"/>
<line x1="1428.90" y1="193.90" x2="1428.90" y2="200.40" stroke="#951414" stroke-width="3.6" stroke-linecap="butt"/>
<line x1="1434.50" y1="199.50" x2="1434.50" y2="206.00" stroke="#951414" stroke-width="3.6" stroke-linecap="butt"/>
<line x1="1436.30" y1="205.50" x2="1436.30" y2="212.00" stroke="#951414" stroke-width="3.6" stroke-linecap="butt"/>
<line x1="1447.20" y1="238.50" x2="1447.20" y2="245.00" stroke="#951414" stroke-width="3.6" stroke-linecap="butt"/>
<line x1="1449.00" y1="238.50" x2="1449.00" y2="245.00" stroke="#951414" stroke-width="3.6" stroke-linecap="butt"/>
<line x1="1451.50" y1="251.50" x2="1451.50" y2="258.00" stroke="#951414" stroke-width="3.6" stroke-linecap="butt"/>
<line x1="1454.00" y1="265.00" x2="1454.00" y2="271.50" stroke="#951414" stroke-width="3.6" stroke-linecap="butt"/>
<line x1="1457.60" y1="270.50" x2="1457.60" y2="277.00" stroke="#951414" stroke-width="3.6" stroke-linecap="butt"/>
<line x1="1468.40" y1="276.90" x2="1468.40" y2="283.40" stroke="#951414" stroke-width="3.6" stroke-linecap="butt"/>
<line x1="1479.80" y1="284.50" x2="1479.80" y2="291.00" stroke="#951414" stroke-width="3.6" stroke-linecap="butt"/>
<line x1="1499.40" y1="303.50" x2="1499.40" y2="310.00" stroke="#951414" stroke-width="3.6" stroke-linecap="butt"/>
<line x1="1501.60" y1="318.10" x2="1501.60" y2="324.60" stroke="#951414" stroke-width="3.6" stroke-linecap="butt"/>
<line x1="1509.70" y1="318.10" x2="1509.70" y2="324.60" stroke="#951414" stroke-width="3.6" stroke-linecap="butt"/>
<line x1="1511.90" y1="318.10" x2="1511.90" y2="324.60" stroke="#951414" stroke-width="3.6" stroke-linecap="butt"/>
<line x1="1539.50" y1="338.50" x2="1539.50" y2="345.00" stroke="#951414" stroke-width="3.6" stroke-linecap="butt"/>
<line x1="1543.00" y1="338.50" x2="1543.00" y2="345.00" stroke="#951414" stroke-width="3.6" stroke-linecap="butt"/>
<line x1="1561.10" y1="338.50" x2="1561.10" y2="345.00" stroke="#951414" stroke-width="3.6" stroke-linecap="butt"/>
<line x1="1614.20" y1="365.30" x2="1614.20" y2="371.80" stroke="#951414" stroke-width="3.6" stroke-linecap="butt"/>
<line x1="1677.10" y1="365.30" x2="1677.10" y2="371.80" stroke="#951414" stroke-width="3.6" stroke-linecap="butt"/>
<line x1="1684.80" y1="410.50" x2="1684.80" y2="417.00" stroke="#951414" stroke-width="3.6" stroke-linecap="butt"/>
<line x1="1796.80" y1="410.50" x2="1796.80" y2="417.00" stroke="#951414" stroke-width="3.6" stroke-linecap="butt"/>
<line x1="1898.50" y1="410.50" x2="1898.50" y2="417.00" stroke="#951414" stroke-width="3.6" stroke-linecap="butt"/>
<line x1="260.50" y1="894.90" x2="260.50" y2="1268.50" stroke="#000" stroke-width="3.8" stroke-linecap="butt"/>
<line x1="245.50" y1="1253.50" x2="801.20" y2="1253.50" stroke="#000" stroke-width="3.8" stroke-linecap="butt"/>
<line x1="245.50" y1="1253.50" x2="260.50" y2="1253.50" stroke="#000" stroke-width="3.8" stroke-linecap="butt"/>
<line x1="252.00" y1="1237.20" x2="260.50" y2="1237.20" stroke="#000" stroke-width="3.8" stroke-linecap="butt"/>
<line x1="252.00" y1="1220.90" x2="260.50" y2="1220.90" stroke="#000" stroke-width="3.8" stroke-linecap="butt"/>
<line x1="252.00" y1="1204.60" x2="260.50" y2="1204.60" stroke="#000" stroke-width="3.8" stroke-linecap="butt"/>
<line x1="252.00" y1="1188.30" x2="260.50" y2="1188.30" stroke="#000" stroke-width="3.8" stroke-linecap="butt"/>
<line x1="252.00" y1="1172.00" x2="260.50" y2="1172.00" stroke="#000" stroke-width="3.8" stroke-linecap="butt"/>
<line x1="252.00" y1="1155.70" x2="260.50" y2="1155.70" stroke="#000" stroke-width="3.8" stroke-linecap="butt"/>
<line x1="252.00" y1="1139.40" x2="260.50" y2="1139.40" stroke="#000" stroke-width="3.8" stroke-linecap="butt"/>
<line x1="252.00" y1="1123.10" x2="260.50" y2="1123.10" stroke="#000" stroke-width="3.8" stroke-linecap="butt"/>
<line x1="252.00" y1="1106.80" x2="260.50" y2="1106.80" stroke="#000" stroke-width="3.8" stroke-linecap="butt"/>
<line x1="245.50" y1="1090.50" x2="260.50" y2="1090.50" stroke="#000" stroke-width="3.8" stroke-linecap="butt"/>
<line x1="252.00" y1="1074.20" x2="260.50" y2="1074.20" stroke="#000" stroke-width="3.8" stroke-linecap="butt"/>
<line x1="252.00" y1="1057.90" x2="260.50" y2="1057.90" stroke="#000" stroke-width="3.8" stroke-linecap="butt"/>
<line x1="252.00" y1="1041.60" x2="260.50" y2="1041.60" stroke="#000" stroke-width="3.8" stroke-linecap="butt"/>
<line x1="252.00" y1="1025.30" x2="260.50" y2="1025.30" stroke="#000" stroke-width="3.8" stroke-linecap="butt"/>
<line x1="252.00" y1="1009.00" x2="260.50" y2="1009.00" stroke="#000" stroke-width="3.8" stroke-linecap="butt"/>
<line x1="252.00" y1="992.70" x2="260.50" y2="992.70" stroke="#000" stroke-width="3.8" stroke-linecap="butt"/>
<line x1="252.00" y1="976.40" x2="260.50" y2="976.40" stroke="#000" stroke-width="3.8" stroke-linecap="butt"/>
<line x1="252.00" y1="960.10" x2="260.50" y2="960.10" stroke="#000" stroke-width="3.8" stroke-linecap="butt"/>
<line x1="252.00" y1="943.80" x2="260.50" y2="943.80" stroke="#000" stroke-width="3.8" stroke-linecap="butt"/>
<line x1="245.50" y1="927.50" x2="260.50" y2="927.50" stroke="#000" stroke-width="3.8" stroke-linecap="butt"/>
<line x1="252.00" y1="911.20" x2="260.50" y2="911.20" stroke="#000" stroke-width="3.8" stroke-linecap="butt"/>
<line x1="252.00" y1="894.90" x2="260.50" y2="894.90" stroke="#000" stroke-width="3.8" stroke-linecap="butt"/>
<line x1="260.50" y1="1253.50" x2="260.50" y2="1268.50" stroke="#000" stroke-width="3.8" stroke-linecap="butt"/>
<line x1="278.46" y1="1253.50" x2="278.46" y2="1262.50" stroke="#000" stroke-width="3.8" stroke-linecap="butt"/>
<line x1="296.42" y1="1253.50" x2="296.42" y2="1262.50" stroke="#000" stroke-width="3.8" stroke-linecap="butt"/>
<line x1="314.38" y1="1253.50" x2="314.38" y2="1262.50" stroke="#000" stroke-width="3.8" stroke-linecap="butt"/>
<line x1="332.34" y1="1253.50" x2="332.34" y2="1262.50" stroke="#000" stroke-width="3.8" stroke-linecap="butt"/>
<line x1="350.30" y1="1253.50" x2="350.30" y2="1262.50" stroke="#000" stroke-width="3.8" stroke-linecap="butt"/>
<line x1="368.26" y1="1253.50" x2="368.26" y2="1262.50" stroke="#000" stroke-width="3.8" stroke-linecap="butt"/>
<line x1="386.22" y1="1253.50" x2="386.22" y2="1262.50" stroke="#000" stroke-width="3.8" stroke-linecap="butt"/>
<line x1="404.18" y1="1253.50" x2="404.18" y2="1262.50" stroke="#000" stroke-width="3.8" stroke-linecap="butt"/>
<line x1="422.14" y1="1253.50" x2="422.14" y2="1262.50" stroke="#000" stroke-width="3.8" stroke-linecap="butt"/>
<line x1="440.10" y1="1253.50" x2="440.10" y2="1268.50" stroke="#000" stroke-width="3.8" stroke-linecap="butt"/>
<line x1="458.06" y1="1253.50" x2="458.06" y2="1262.50" stroke="#000" stroke-width="3.8" stroke-linecap="butt"/>
<line x1="476.02" y1="1253.50" x2="476.02" y2="1262.50" stroke="#000" stroke-width="3.8" stroke-linecap="butt"/>
<line x1="493.98" y1="1253.50" x2="493.98" y2="1262.50" stroke="#000" stroke-width="3.8" stroke-linecap="butt"/>
<line x1="511.94" y1="1253.50" x2="511.94" y2="1262.50" stroke="#000" stroke-width="3.8" stroke-linecap="butt"/>
<line x1="529.90" y1="1253.50" x2="529.90" y2="1262.50" stroke="#000" stroke-width="3.8" stroke-linecap="butt"/>
<line x1="547.86" y1="1253.50" x2="547.86" y2="1262.50" stroke="#000" stroke-width="3.8" stroke-linecap="butt"/>
<line x1="565.82" y1="1253.50" x2="565.82" y2="1262.50" stroke="#000" stroke-width="3.8" stroke-linecap="butt"/>
<line x1="583.78" y1="1253.50" x2="583.78" y2="1262.50" stroke="#000" stroke-width="3.8" stroke-linecap="butt"/>
<line x1="601.74" y1="1253.50" x2="601.74" y2="1262.50" stroke="#000" stroke-width="3.8" stroke-linecap="butt"/>
<line x1="619.70" y1="1253.50" x2="619.70" y2="1268.50" stroke="#000" stroke-width="3.8" stroke-linecap="butt"/>
<line x1="637.66" y1="1253.50" x2="637.66" y2="1262.50" stroke="#000" stroke-width="3.8" stroke-linecap="butt"/>
<line x1="655.62" y1="1253.50" x2="655.62" y2="1262.50" stroke="#000" stroke-width="3.8" stroke-linecap="butt"/>
<line x1="673.58" y1="1253.50" x2="673.58" y2="1262.50" stroke="#000" stroke-width="3.8" stroke-linecap="butt"/>
<line x1="691.54" y1="1253.50" x2="691.54" y2="1262.50" stroke="#000" stroke-width="3.8" stroke-linecap="butt"/>
<line x1="709.50" y1="1253.50" x2="709.50" y2="1262.50" stroke="#000" stroke-width="3.8" stroke-linecap="butt"/>
<line x1="727.46" y1="1253.50" x2="727.46" y2="1262.50" stroke="#000" stroke-width="3.8" stroke-linecap="butt"/>
<line x1="745.42" y1="1253.50" x2="745.42" y2="1262.50" stroke="#000" stroke-width="3.8" stroke-linecap="butt"/>
<line x1="763.38" y1="1253.50" x2="763.38" y2="1262.50" stroke="#000" stroke-width="3.8" stroke-linecap="butt"/>
<line x1="781.34" y1="1253.50" x2="781.34" y2="1262.50" stroke="#000" stroke-width="3.8" stroke-linecap="butt"/>
<line x1="799.30" y1="1253.50" x2="799.30" y2="1268.50" stroke="#000" stroke-width="3.8" stroke-linecap="butt"/>
<text transform="translate(224.90,1263.50) scale(1.0700,1)" style="font-size:27.40px;font-weight:bold">0</text>
<text transform="translate(208.63,1100.50) scale(1.0700,1)" style="font-size:27.40px;font-weight:bold">50</text>
<text transform="translate(192.36,937.50) scale(1.0700,1)" style="font-size:27.40px;font-weight:bold">100</text>
<text transform="translate(252.36,1301.80) scale(1.0700,1)" style="font-size:27.40px;font-weight:bold">0</text>
<text transform="translate(407.56,1301.80) scale(1.0700,1)" style="font-size:27.40px;font-weight:bold">2000</text>
<text transform="translate(587.45,1301.80) scale(1.0700,1)" style="font-size:27.40px;font-weight:bold">4000</text>
<text transform="translate(766.76,1301.80) scale(1.0700,1)" style="font-size:27.40px;font-weight:bold">6000</text>
<text transform="translate(427.07,1358.70) scale(1.0200,1)" style="font-size:42.00px;font-weight:bold" fill="#000">Time (days)</text>
<text transform="translate(171.50,1247.88) rotate(-90)" style="font-size:42.80px;font-weight:bold">Percent Survival</text>
<text x="147.56" y="843.30" style="font-size:46.00px;font-weight:bold" fill="#000">d</text>
<text x="441.16" y="852.40" style="font-size:43.70px;font-weight:bold" fill="#000">p53</text>
<text x="515.41" y="839.40" style="font-size:29.00px;font-weight:bold" fill="#000">R248Q/W</text>
<line x1="613.80" y1="912.40" x2="652.80" y2="912.40" stroke="#951414" stroke-width="2.2" stroke-linecap="butt"/>
<line x1="633.20" y1="905.40" x2="633.20" y2="912.40" stroke="#951414" stroke-width="3.6" stroke-linecap="butt"/>
<text x="673.42" y="927.90" style="font-size:33.60px;font-weight:bold" fill="#000">BACH1</text>
<text x="794.85" y="913.90" style="font-size:25.00px;font-weight:bold" fill="#000">high</text>
<text transform="translate(856.54,927.90) scale(1.0450,1)" style="font-size:33.60px;font-weight:bold" fill="#000">(n=71)</text>
<line x1="613.80" y1="965.00" x2="652.80" y2="965.00" stroke="#18189e" stroke-width="2.2" stroke-linecap="butt"/>
<line x1="633.20" y1="958.00" x2="633.20" y2="965.00" stroke="#18189e" stroke-width="3.6" stroke-linecap="butt"/>
<text x="673.42" y="980.50" style="font-size:33.60px;font-weight:bold" fill="#000">BACH1</text>
<text x="794.85" y="966.50" style="font-size:25.00px;font-weight:bold" fill="#000">low</text>
<text transform="translate(848.64,980.50) scale(1.0450,1)" style="font-size:33.60px;font-weight:bold" fill="#000">(n=83)</text>
<text x="661.04" y="1108.80" style="font-size:34.80px;font-weight:bold" fill="#000">p=0.4013</text>
<path d="M261.0,927.5 L263.0,935.0 L268.0,942.0 L272.0,948.0 L276.0,953.5 L280.0,959.0 L283.0,968.0 L285.5,978.0 L287.5,985.0 L290.5,991.0 L293.5,997.0 L297.0,1003.0 L300.5,1009.0 L304.0,1014.5 L307.0,1018.5" stroke="#18189e" stroke-width="3.6" fill="none" stroke-linejoin="round" stroke-linecap="round"/>
<path d="M260.5,927.5 L262.0,927.5 L262.0,932.0 L263.5,932.0 L263.5,937.5 L266.0,937.5 L266.0,940.5 L268.5,940.5 L268.5,943.5 L271.0,943.5 L271.0,947.0 L273.5,947.0 L273.5,950.5 L276.0,950.5 L276.0,954.0 L279.5,954.0 L279.5,957.5 L281.5,957.5 L281.5,962.0 L283.0,962.0 L283.0,968.0 L284.5,968.0 L284.5,975.0 L286.0,975.0 L286.0,982.0 L288.0,982.0 L288.0,987.0 L290.5,987.0 L290.5,992.0 L293.0,992.0 L293.0,997.0 L296.0,997.0 L296.0,1002.0 L299.5,1002.0 L299.5,1008.5 L302.5,1008.5 L302.5,1012.5 L305.5,1012.5 L305.5,1019.2 L316.5,1019.2 L316.5,1028.0 L318.5,1028.0 L318.5,1035.0 L321.0,1035.0 L321.0,1044.4 L335.9,1044.4 L335.9,1054.3 L369.5,1054.3 L369.5,1065.0 L381.7,1065.0 L381.7,1076.7 L472.8,1076.7 L472.8,1105.7 L514.0,1105.7 L514.0,1142.7 L714.7,1142.7" stroke="#18189e" stroke-width="2.2" fill="none" stroke-linejoin="miter"/>
<line x1="261.00" y1="921.00" x2="261.00" y2="927.50" stroke="#18189e" stroke-width="3.6" stroke-linecap="butt"/>
<line x1="280.50" y1="951.00" x2="280.50" y2="957.50" stroke="#18189e" stroke-width="3.6" stroke-linecap="butt"/>
<line x1="301.00" y1="1002.00" x2="301.00" y2="1008.50" stroke="#18189e" stroke-width="3.6" stroke-linecap="butt"/>
<line x1="304.00" y1="1006.00" x2="304.00" y2="1012.50" stroke="#18189e" stroke-width="3.6" stroke-linecap="butt"/>
<line x1="311.50" y1="1012.70" x2="311.50" y2="1019.20" stroke="#18189e" stroke-width="3.6" stroke-linecap="butt"/>
<line x1="314.00" y1="1012.70" x2="314.00" y2="1019.20" stroke="#18189e" stroke-width="3.6" stroke-linecap="butt"/>
<line x1="318.00" y1="1021.50" x2="318.00" y2="1028.00" stroke="#18189e" stroke-width="3.6" stroke-linecap="butt"/>
<line x1="323.00" y1="1037.90" x2="323.00" y2="1044.40" stroke="#18189e" stroke-width="3.6" stroke-linecap="butt"/>
<line x1="325.00" y1="1037.90" x2="325.00" y2="1044.40" stroke="#18189e" stroke-width="3.6" stroke-linecap="butt"/>
<line x1="327.00" y1="1037.90" x2="327.00" y2="1044.40" stroke="#18189e" stroke-width="3.6" stroke-linecap="butt"/>
<line x1="329.00" y1="1037.90" x2="329.00" y2="1044.40" stroke="#18189e" stroke-width="3.6" stroke-linecap="butt"/>
<line x1="333.50" y1="1037.90" x2="333.50" y2="1044.40" stroke="#18189e" stroke-width="3.6" stroke-linecap="butt"/>
<line x1="342.00" y1="1047.80" x2="342.00" y2="1054.30" stroke="#18189e" stroke-width="3.6" stroke-linecap="butt"/>
<line x1="348.00" y1="1047.80" x2="348.00" y2="1054.30" stroke="#18189e" stroke-width="3.6" stroke-linecap="butt"/>
<line x1="356.00" y1="1047.80" x2="356.00" y2="1054.30" stroke="#18189e" stroke-width="3.6" stroke-linecap="butt"/>
<line x1="357.50" y1="1047.80" x2="357.50" y2="1054.30" stroke="#18189e" stroke-width="3.6" stroke-linecap="butt"/>
<line x1="359.50" y1="1047.80" x2="359.50" y2="1054.30" stroke="#18189e" stroke-width="3.6" stroke-linecap="butt"/>
<line x1="362.00" y1="1047.80" x2="362.00" y2="1054.30" stroke="#18189e" stroke-width="3.6" stroke-linecap="butt"/>
<line x1="375.60" y1="1058.50" x2="375.60" y2="1065.00" stroke="#18189e" stroke-width="3.6" stroke-linecap="butt"/>
<line x1="382.50" y1="1070.20" x2="382.50" y2="1076.70" stroke="#18189e" stroke-width="3.6" stroke-linecap="butt"/>
<line x1="388.30" y1="1070.20" x2="388.30" y2="1076.70" stroke="#18189e" stroke-width="3.6" stroke-linecap="butt"/>
<line x1="415.60" y1="1070.20" x2="415.60" y2="1076.70" stroke="#18189e" stroke-width="3.6" stroke-linecap="butt"/>
<line x1="423.00" y1="1070.20" x2="423.00" y2="1076.70" stroke="#18189e" stroke-width="3.6" stroke-linecap="butt"/>
<line x1="425.00" y1="1070.20" x2="425.00" y2="1076.70" stroke="#18189e" stroke-width="3.6" stroke-linecap="butt"/>
<line x1="427.00" y1="1070.20" x2="427.00" y2="1076.70" stroke="#18189e" stroke-width="3.6" stroke-linecap="butt"/>
<line x1="430.00" y1="1070.20" x2="430.00" y2="1076.70" stroke="#18189e" stroke-width="3.6" stroke-linecap="butt"/>
<line x1="436.00" y1="1070.20" x2="436.00" y2="1076.70" stroke="#18189e" stroke-width="3.6" stroke-linecap="butt"/>
<line x1="441.30" y1="1070.20" x2="441.30" y2="1076.70" stroke="#18189e" stroke-width="3.6" stroke-linecap="butt"/>
<line x1="473.50" y1="1099.20" x2="473.50" y2="1105.70" stroke="#18189e" stroke-width="3.6" stroke-linecap="butt"/>
<line x1="514.30" y1="1136.20" x2="514.30" y2="1142.70" stroke="#18189e" stroke-width="3.6" stroke-linecap="butt"/>
<line x1="582.10" y1="1136.20" x2="582.10" y2="1142.70" stroke="#18189e" stroke-width="3.6" stroke-linecap="butt"/>
<line x1="619.60" y1="1136.20" x2="619.60" y2="1142.70" stroke="#18189e" stroke-width="3.6" stroke-linecap="butt"/>
<line x1="714.00" y1="1136.20" x2="714.00" y2="1142.70" stroke="#18189e" stroke-width="3.6" stroke-linecap="butt"/>
<path d="M262.0,924.0 L264.0,928.0 L267.0,932.0 L270.5,938.0 L273.5,946.0 L276.5,956.0 L279.0,966.0 L281.5,975.0 L284.0,985.0 L286.0,990.0 L289.5,994.0 L292.0,1000.0 L295.5,1004.0 L297.8,1012.0" stroke="#951414" stroke-width="3.6" fill="none" stroke-linejoin="round" stroke-linecap="round"/>
<path d="M260.5,927.5 L265.5,927.5 L265.5,930.5 L268.0,930.5 L268.0,934.0 L270.5,934.0 L270.5,938.5 L272.5,938.5 L272.5,943.0 L274.0,943.0 L274.0,949.5 L276.0,949.5 L276.0,956.0 L278.0,956.0 L278.0,964.0 L279.5,964.0 L279.5,970.0 L281.0,970.0 L281.0,977.0 L283.5,977.0 L283.5,985.0 L285.0,985.0 L285.0,990.0 L288.7,990.0 L288.7,995.0 L291.0,995.0 L291.0,1000.0 L293.0,1000.0 L293.0,1004.5 L297.6,1004.5 L297.6,1015.0 L298.7,1015.0 L298.7,1029.9 L313.2,1029.9 L313.2,1037.0 L314.5,1037.0 L314.5,1044.4 L320.6,1044.4 L320.6,1060.4 L346.6,1060.4 L346.6,1070.3 L352.7,1070.3 L352.7,1081.0 L387.1,1081.0 L387.1,1101.3 L408.6,1101.3 L408.6,1151.3 L486.4,1151.3" stroke="#951414" stroke-width="2.2" fill="none" stroke-linejoin="miter"/>
<line x1="263.00" y1="921.00" x2="263.00" y2="927.50" stroke="#951414" stroke-width="3.6" stroke-linecap="butt"/>
<line x1="265.00" y1="921.00" x2="265.00" y2="927.50" stroke="#951414" stroke-width="3.6" stroke-linecap="butt"/>
<line x1="272.00" y1="932.00" x2="272.00" y2="938.50" stroke="#951414" stroke-width="3.6" stroke-linecap="butt"/>
<line x1="276.00" y1="949.50" x2="276.00" y2="956.00" stroke="#951414" stroke-width="3.6" stroke-linecap="butt"/>
<line x1="285.50" y1="983.50" x2="285.50" y2="990.00" stroke="#951414" stroke-width="3.6" stroke-linecap="butt"/>
<line x1="287.00" y1="983.50" x2="287.00" y2="990.00" stroke="#951414" stroke-width="3.6" stroke-linecap="butt"/>
<line x1="290.00" y1="988.50" x2="290.00" y2="995.00" stroke="#951414" stroke-width="3.6" stroke-linecap="butt"/>
<line x1="293.50" y1="998.00" x2="293.50" y2="1004.50" stroke="#951414" stroke-width="3.6" stroke-linecap="butt"/>
<line x1="296.00" y1="998.00" x2="296.00" y2="1004.50" stroke="#951414" stroke-width="3.6" stroke-linecap="butt"/>
<line x1="300.50" y1="1023.40" x2="300.50" y2="1029.90" stroke="#951414" stroke-width="3.6" stroke-linecap="butt"/>
<line x1="303.00" y1="1023.40" x2="303.00" y2="1029.90" stroke="#951414" stroke-width="3.6" stroke-linecap="butt"/>
<line x1="305.50" y1="1023.40" x2="305.50" y2="1029.90" stroke="#951414" stroke-width="3.6" stroke-linecap="butt"/>
<line x1="308.00" y1="1023.40" x2="308.00" y2="1029.90" stroke="#951414" stroke-width="3.6" stroke-linecap="butt"/>
<line x1="310.00" y1="1023.40" x2="310.00" y2="1029.90" stroke="#951414" stroke-width="3.6" stroke-linecap="butt"/>
<line x1="323.70" y1="1053.90" x2="323.70" y2="1060.40" stroke="#951414" stroke-width="3.6" stroke-linecap="butt"/>
<line x1="328.30" y1="1053.90" x2="328.30" y2="1060.40" stroke="#951414" stroke-width="3.6" stroke-linecap="butt"/>
<line x1="338.20" y1="1053.90" x2="338.20" y2="1060.40" stroke="#951414" stroke-width="3.6" stroke-linecap="butt"/>
<line x1="347.50" y1="1063.80" x2="347.50" y2="1070.30" stroke="#951414" stroke-width="3.6" stroke-linecap="butt"/>
<line x1="349.00" y1="1063.80" x2="349.00" y2="1070.30" stroke="#951414" stroke-width="3.6" stroke-linecap="butt"/>
<line x1="353.50" y1="1074.50" x2="353.50" y2="1081.00" stroke="#951414" stroke-width="3.6" stroke-linecap="butt"/>
<line x1="361.50" y1="1074.50" x2="361.50" y2="1081.00" stroke="#951414" stroke-width="3.6" stroke-linecap="butt"/>
<line x1="363.00" y1="1074.50" x2="363.00" y2="1081.00" stroke="#951414" stroke-width="3.6" stroke-linecap="butt"/>
<line x1="372.60" y1="1074.50" x2="372.60" y2="1081.00" stroke="#951414" stroke-width="3.6" stroke-linecap="butt"/>
<line x1="378.70" y1="1074.50" x2="378.70" y2="1081.00" stroke="#951414" stroke-width="3.6" stroke-linecap="butt"/>
<line x1="387.80" y1="1094.80" x2="387.80" y2="1101.30" stroke="#951414" stroke-width="3.6" stroke-linecap="butt"/>
<line x1="394.70" y1="1094.80" x2="394.70" y2="1101.30" stroke="#951414" stroke-width="3.6" stroke-linecap="butt"/>
<line x1="408.60" y1="1116.50" x2="408.60" y2="1123.00" stroke="#951414" stroke-width="3.6" stroke-linecap="butt"/>
<line x1="415.30" y1="1144.80" x2="415.30" y2="1151.30" stroke="#951414" stroke-width="3.6" stroke-linecap="butt"/>
<line x1="424.20" y1="1144.80" x2="424.20" y2="1151.30" stroke="#951414" stroke-width="3.6" stroke-linecap="butt"/>
<line x1="481.40" y1="1144.80" x2="481.40" y2="1151.30" stroke="#951414" stroke-width="3.6" stroke-linecap="butt"/>
<line x1="484.00" y1="1144.80" x2="484.00" y2="1151.30" stroke="#951414" stroke-width="3.6" stroke-linecap="butt"/>
<line x1="485.80" y1="1144.80" x2="485.80" y2="1151.30" stroke="#951414" stroke-width="3.6" stroke-linecap="butt"/>
<line x1="1200.60" y1="895.26" x2="1200.60" y2="1269.30" stroke="#000" stroke-width="3.8" stroke-linecap="butt"/>
<line x1="1185.60" y1="1254.30" x2="1741.20" y2="1254.30" stroke="#000" stroke-width="3.8" stroke-linecap="butt"/>
<line x1="1185.60" y1="1254.30" x2="1200.60" y2="1254.30" stroke="#000" stroke-width="3.8" stroke-linecap="butt"/>
<line x1="1192.10" y1="1237.98" x2="1200.60" y2="1237.98" stroke="#000" stroke-width="3.8" stroke-linecap="butt"/>
<line x1="1192.10" y1="1221.66" x2="1200.60" y2="1221.66" stroke="#000" stroke-width="3.8" stroke-linecap="butt"/>
<line x1="1192.10" y1="1205.34" x2="1200.60" y2="1205.34" stroke="#000" stroke-width="3.8" stroke-linecap="butt"/>
<line x1="1192.10" y1="1189.02" x2="1200.60" y2="1189.02" stroke="#000" stroke-width="3.8" stroke-linecap="butt"/>
<line x1="1192.10" y1="1172.70" x2="1200.60" y2="1172.70" stroke="#000" stroke-width="3.8" stroke-linecap="butt"/>
<line x1="1192.10" y1="1156.38" x2="1200.60" y2="1156.38" stroke="#000" stroke-width="3.8" stroke-linecap="butt"/>
<line x1="1192.10" y1="1140.06" x2="1200.60" y2="1140.06" stroke="#000" stroke-width="3.8" stroke-linecap="butt"/>
<line x1="1192.10" y1="1123.74" x2="1200.60" y2="1123.74" stroke="#000" stroke-width="3.8" stroke-linecap="butt"/>
<line x1="1192.10" y1="1107.42" x2="1200.60" y2="1107.42" stroke="#000" stroke-width="3.8" stroke-linecap="butt"/>
<line x1="1185.60" y1="1091.10" x2="1200.60" y2="1091.10" stroke="#000" stroke-width="3.8" stroke-linecap="butt"/>
<line x1="1192.10" y1="1074.78" x2="1200.60" y2="1074.78" stroke="#000" stroke-width="3.8" stroke-linecap="butt"/>
<line x1="1192.10" y1="1058.46" x2="1200.60" y2="1058.46" stroke="#000" stroke-width="3.8" stroke-linecap="butt"/>
<line x1="1192.10" y1="1042.14" x2="1200.60" y2="1042.14" stroke="#000" stroke-width="3.8" stroke-linecap="butt"/>
<line x1="1192.10" y1="1025.82" x2="1200.60" y2="1025.82" stroke="#000" stroke-width="3.8" stroke-linecap="butt"/>
<line x1="1192.10" y1="1009.50" x2="1200.60" y2="1009.50" stroke="#000" stroke-width="3.8" stroke-linecap="butt"/>
<line x1="1192.10" y1="993.18" x2="1200.60" y2="993.18" stroke="#000" stroke-width="3.8" stroke-linecap="butt"/>
<line x1="1192.10" y1="976.86" x2="1200.60" y2="976.86" stroke="#000" stroke-width="3.8" stroke-linecap="butt"/>
<line x1="1192.10" y1="960.54" x2="1200.60" y2="960.54" stroke="#000" stroke-width="3.8" stroke-linecap="butt"/>
<line x1="1192.10" y1="944.22" x2="1200.60" y2="944.22" stroke="#000" stroke-width="3.8" stroke-linecap="butt"/>
<line x1="1185.60" y1="927.90" x2="1200.60" y2="927.90" stroke="#000" stroke-width="3.8" stroke-linecap="butt"/>
<line x1="1192.10" y1="911.58" x2="1200.60" y2="911.58" stroke="#000" stroke-width="3.8" stroke-linecap="butt"/>
<line x1="1192.10" y1="895.26" x2="1200.60" y2="895.26" stroke="#000" stroke-width="3.8" stroke-linecap="butt"/>
<line x1="1200.60" y1="1254.30" x2="1200.60" y2="1269.30" stroke="#000" stroke-width="3.8" stroke-linecap="butt"/>
<line x1="1218.56" y1="1254.30" x2="1218.56" y2="1263.30" stroke="#000" stroke-width="3.8" stroke-linecap="butt"/>
<line x1="1236.51" y1="1254.30" x2="1236.51" y2="1263.30" stroke="#000" stroke-width="3.8" stroke-linecap="butt"/>
<line x1="1254.47" y1="1254.30" x2="1254.47" y2="1263.30" stroke="#000" stroke-width="3.8" stroke-linecap="butt"/>
<line x1="1272.43" y1="1254.30" x2="1272.43" y2="1263.30" stroke="#000" stroke-width="3.8" stroke-linecap="butt"/>
<line x1="1290.38" y1="1254.30" x2="1290.38" y2="1263.30" stroke="#000" stroke-width="3.8" stroke-linecap="butt"/>
<line x1="1308.34" y1="1254.30" x2="1308.34" y2="1263.30" stroke="#000" stroke-width="3.8" stroke-linecap="butt"/>
<line x1="1326.30" y1="1254.30" x2="1326.30" y2="1263.30" stroke="#000" stroke-width="3.8" stroke-linecap="butt"/>
<line x1="1344.25" y1="1254.30" x2="1344.25" y2="1263.30" stroke="#000" stroke-width="3.8" stroke-linecap="butt"/>
<line x1="1362.21" y1="1254.30" x2="1362.21" y2="1263.30" stroke="#000" stroke-width="3.8" stroke-linecap="butt"/>
<line x1="1380.17" y1="1254.30" x2="1380.17" y2="1269.30" stroke="#000" stroke-width="3.8" stroke-linecap="butt"/>
<line x1="1398.12" y1="1254.30" x2="1398.12" y2="1263.30" stroke="#000" stroke-width="3.8" stroke-linecap="butt"/>
<line x1="1416.08" y1="1254.30" x2="1416.08" y2="1263.30" stroke="#000" stroke-width="3.8" stroke-linecap="butt"/>
<line x1="1434.04" y1="1254.30" x2="1434.04" y2="1263.30" stroke="#000" stroke-width="3.8" stroke-linecap="butt"/>
<line x1="1451.99" y1="1254.30" x2="1451.99" y2="1263.30" stroke="#000" stroke-width="3.8" stroke-linecap="butt"/>
<line x1="1469.95" y1="1254.30" x2="1469.95" y2="1263.30" stroke="#000" stroke-width="3.8" stroke-linecap="butt"/>
<line x1="1487.91" y1="1254.30" x2="1487.91" y2="1263.30" stroke="#000" stroke-width="3.8" stroke-linecap="butt"/>
<line x1="1505.86" y1="1254.30" x2="1505.86" y2="1263.30" stroke="#000" stroke-width="3.8" stroke-linecap="butt"/>
<line x1="1523.82" y1="1254.30" x2="1523.82" y2="1263.30" stroke="#000" stroke-width="3.8" stroke-linecap="butt"/>
<line x1="1541.78" y1="1254.30" x2="1541.78" y2="1263.30" stroke="#000" stroke-width="3.8" stroke-linecap="butt"/>
<line x1="1559.73" y1="1254.30" x2="1559.73" y2="1269.30" stroke="#000" stroke-width="3.8" stroke-linecap="butt"/>
<line x1="1577.69" y1="1254.30" x2="1577.69" y2="1263.30" stroke="#000" stroke-width="3.8" stroke-linecap="butt"/>
<line x1="1595.65" y1="1254.30" x2="1595.65" y2="1263.30" stroke="#000" stroke-width="3.8" stroke-linecap="butt"/>
<line x1="1613.60" y1="1254.30" x2="1613.60" y2="1263.30" stroke="#000" stroke-width="3.8" stroke-linecap="butt"/>
<line x1="1631.56" y1="1254.30" x2="1631.56" y2="1263.30" stroke="#000" stroke-width="3.8" stroke-linecap="butt"/>
<line x1="1649.52" y1="1254.30" x2="1649.52" y2="1263.30" stroke="#000" stroke-width="3.8" stroke-linecap="butt"/>
<line x1="1667.47" y1="1254.30" x2="1667.47" y2="1263.30" stroke="#000" stroke-width="3.8" stroke-linecap="butt"/>
<line x1="1685.43" y1="1254.30" x2="1685.43" y2="1263.30" stroke="#000" stroke-width="3.8" stroke-linecap="butt"/>
<line x1="1703.39" y1="1254.30" x2="1703.39" y2="1263.30" stroke="#000" stroke-width="3.8" stroke-linecap="butt"/>
<line x1="1721.34" y1="1254.30" x2="1721.34" y2="1263.30" stroke="#000" stroke-width="3.8" stroke-linecap="butt"/>
<line x1="1739.30" y1="1254.30" x2="1739.30" y2="1269.30" stroke="#000" stroke-width="3.8" stroke-linecap="butt"/>
<text transform="translate(1165.00,1264.30) scale(1.0700,1)" style="font-size:27.40px;font-weight:bold">0</text>
<text transform="translate(1148.73,1101.10) scale(1.0700,1)" style="font-size:27.40px;font-weight:bold">50</text>
<text transform="translate(1132.46,937.90) scale(1.0700,1)" style="font-size:27.40px;font-weight:bold">100</text>
<text transform="translate(1192.46,1302.60) scale(1.0700,1)" style="font-size:27.40px;font-weight:bold">0</text>
<text transform="translate(1347.62,1302.60) scale(1.0700,1)" style="font-size:27.40px;font-weight:bold">2000</text>
<text transform="translate(1527.48,1302.60) scale(1.0700,1)" style="font-size:27.40px;font-weight:bold">4000</text>
<text transform="translate(1706.76,1302.60) scale(1.0700,1)" style="font-size:27.40px;font-weight:bold">6000</text>
<text transform="translate(1377.27,1358.70) scale(1.0200,1)" style="font-size:42.00px;font-weight:bold" fill="#000">Time (days)</text>
<text transform="translate(1106.10,1259.88) rotate(-90)" style="font-size:42.80px;font-weight:bold">Percent Survival</text>
<text x="1073.36" y="856.30" style="font-size:46.00px;font-weight:bold" fill="#000">e</text>
<text x="1405.36" y="848.50" style="font-size:43.70px;font-weight:bold" fill="#000">p53</text>
<text x="1479.52" y="836.50" style="font-size:29.00px;font-weight:bold" fill="#000">R273H</text>
<line x1="1553.80" y1="912.80" x2="1592.80" y2="912.80" stroke="#951414" stroke-width="2.2" stroke-linecap="butt"/>
<line x1="1573.20" y1="905.80" x2="1573.20" y2="912.80" stroke="#951414" stroke-width="3.6" stroke-linecap="butt"/>
<text x="1613.42" y="928.30" style="font-size:33.60px;font-weight:bold" fill="#000">BACH1</text>
<text x="1734.85" y="914.30" style="font-size:25.00px;font-weight:bold" fill="#000">high</text>
<text transform="translate(1796.54,928.30) scale(1.0450,1)" style="font-size:33.60px;font-weight:bold" fill="#000">(n=40)</text>
<line x1="1553.80" y1="965.40" x2="1592.80" y2="965.40" stroke="#18189e" stroke-width="2.2" stroke-linecap="butt"/>
<line x1="1573.20" y1="958.40" x2="1573.20" y2="965.40" stroke="#18189e" stroke-width="3.6" stroke-linecap="butt"/>
<text x="1613.42" y="980.90" style="font-size:33.60px;font-weight:bold" fill="#000">BACH1</text>
<text x="1734.85" y="966.90" style="font-size:25.00px;font-weight:bold" fill="#000">low</text>
<text transform="translate(1788.64,980.90) scale(1.0450,1)" style="font-size:33.60px;font-weight:bold" fill="#000">(n=39)</text>
<text x="1684.74" y="1138.80" style="font-size:34.80px;font-weight:bold" fill="#000">p=0.9842</text>
<path d="M1200.6,927.9 L1207.3,927.9 L1207.3,953.8 L1225.8,953.8 L1225.8,963.9 L1232.9,963.9 L1232.9,973.2 L1246.1,973.2 L1246.1,987.3 L1253.2,987.3 L1253.2,1002.5 L1261.0,1002.5 L1261.0,1021.7 L1266.5,1021.7 L1266.5,1039.4 L1369.7,1039.4 L1369.7,1093.3 L1424.8,1093.3" stroke="#18189e" stroke-width="2.2" fill="none" stroke-linejoin="miter"/>
<line x1="1201.50" y1="921.40" x2="1201.50" y2="927.90" stroke="#18189e" stroke-width="3.6" stroke-linecap="butt"/>
<line x1="1208.20" y1="947.30" x2="1208.20" y2="953.80" stroke="#18189e" stroke-width="3.6" stroke-linecap="butt"/>
<line x1="1212.60" y1="947.30" x2="1212.60" y2="953.80" stroke="#18189e" stroke-width="3.6" stroke-linecap="butt"/>
<line x1="1218.80" y1="947.30" x2="1218.80" y2="953.80" stroke="#18189e" stroke-width="3.6" stroke-linecap="butt"/>
<line x1="1221.40" y1="947.30" x2="1221.40" y2="953.80" stroke="#18189e" stroke-width="3.6" stroke-linecap="butt"/>
<line x1="1226.30" y1="957.40" x2="1226.30" y2="963.90" stroke="#18189e" stroke-width="3.6" stroke-linecap="butt"/>
<line x1="1233.40" y1="966.70" x2="1233.40" y2="973.20" stroke="#18189e" stroke-width="3.6" stroke-linecap="butt"/>
<line x1="1235.50" y1="966.70" x2="1235.50" y2="973.20" stroke="#18189e" stroke-width="3.6" stroke-linecap="butt"/>
<line x1="1237.30" y1="966.70" x2="1237.30" y2="973.20" stroke="#18189e" stroke-width="3.6" stroke-linecap="butt"/>
<line x1="1241.70" y1="966.70" x2="1241.70" y2="973.20" stroke="#18189e" stroke-width="3.6" stroke-linecap="butt"/>
<line x1="1243.50" y1="966.70" x2="1243.50" y2="973.20" stroke="#18189e" stroke-width="3.6" stroke-linecap="butt"/>
<line x1="1245.20" y1="966.70" x2="1245.20" y2="973.20" stroke="#18189e" stroke-width="3.6" stroke-linecap="butt"/>
<line x1="1246.60" y1="980.80" x2="1246.60" y2="987.30" stroke="#18189e" stroke-width="3.6" stroke-linecap="butt"/>
<line x1="1253.80" y1="996.00" x2="1253.80" y2="1002.50" stroke="#18189e" stroke-width="3.6" stroke-linecap="butt"/>
<line x1="1261.40" y1="1015.20" x2="1261.40" y2="1021.70" stroke="#18189e" stroke-width="3.6" stroke-linecap="butt"/>
<line x1="1266.90" y1="1032.90" x2="1266.90" y2="1039.40" stroke="#18189e" stroke-width="3.6" stroke-linecap="butt"/>
<line x1="1283.80" y1="1032.90" x2="1283.80" y2="1039.40" stroke="#18189e" stroke-width="3.6" stroke-linecap="butt"/>
<line x1="1300.40" y1="1032.90" x2="1300.40" y2="1039.40" stroke="#18189e" stroke-width="3.6" stroke-linecap="butt"/>
<line x1="1309.50" y1="1032.90" x2="1309.50" y2="1039.40" stroke="#18189e" stroke-width="3.6" stroke-linecap="butt"/>
<line x1="1325.60" y1="1032.90" x2="1325.60" y2="1039.40" stroke="#18189e" stroke-width="3.6" stroke-linecap="butt"/>
<line x1="1347.00" y1="1032.90" x2="1347.00" y2="1039.40" stroke="#18189e" stroke-width="3.6" stroke-linecap="butt"/>
<line x1="1352.80" y1="1032.90" x2="1352.80" y2="1039.40" stroke="#18189e" stroke-width="3.6" stroke-linecap="butt"/>
<line x1="1367.50" y1="1032.90" x2="1367.50" y2="1039.40" stroke="#18189e" stroke-width="3.6" stroke-linecap="butt"/>
<line x1="1370.40" y1="1086.80" x2="1370.40" y2="1093.30" stroke="#18189e" stroke-width="3.6" stroke-linecap="butt"/>
<line x1="1413.80" y1="1086.80" x2="1413.80" y2="1093.30" stroke="#18189e" stroke-width="3.6" stroke-linecap="butt"/>
<line x1="1424.50" y1="1086.80" x2="1424.50" y2="1093.30" stroke="#18189e" stroke-width="3.6" stroke-linecap="butt"/>
<path d="M1200.6,927.9 L1207.3,927.9 L1207.3,936.6 L1215.7,936.6 L1215.7,945.8 L1227.6,945.8 L1227.6,955.5 L1235.1,955.5 L1235.1,970.0 L1236.4,970.0 L1236.4,986.4 L1254.9,986.4 L1254.9,999.6 L1278.6,999.6 L1278.6,1014.1 L1306.6,1014.1 L1306.6,1027.9 L1313.9,1027.9 L1313.9,1044.8 L1326.4,1044.8 L1326.4,1063.9 L1366.0,1063.9 L1366.0,1095.0 L1672.6,1095.0" stroke="#951414" stroke-width="2.2" fill="none" stroke-linejoin="miter"/>
<line x1="1202.50" y1="921.40" x2="1202.50" y2="927.90" stroke="#951414" stroke-width="3.6" stroke-linecap="butt"/>
<line x1="1204.00" y1="921.40" x2="1204.00" y2="927.90" stroke="#951414" stroke-width="3.6" stroke-linecap="butt"/>
<line x1="1210.00" y1="930.10" x2="1210.00" y2="936.60" stroke="#951414" stroke-width="3.6" stroke-linecap="butt"/>
<line x1="1208.00" y1="930.10" x2="1208.00" y2="936.60" stroke="#951414" stroke-width="3.6" stroke-linecap="butt"/>
<line x1="1216.50" y1="939.30" x2="1216.50" y2="945.80" stroke="#951414" stroke-width="3.6" stroke-linecap="butt"/>
<line x1="1228.00" y1="949.00" x2="1228.00" y2="955.50" stroke="#951414" stroke-width="3.6" stroke-linecap="butt"/>
<line x1="1235.50" y1="955.50" x2="1235.50" y2="962.00" stroke="#951414" stroke-width="3.6" stroke-linecap="butt"/>
<line x1="1237.30" y1="979.90" x2="1237.30" y2="986.40" stroke="#951414" stroke-width="3.6" stroke-linecap="butt"/>
<line x1="1249.60" y1="979.90" x2="1249.60" y2="986.40" stroke="#951414" stroke-width="3.6" stroke-linecap="butt"/>
<line x1="1251.50" y1="979.90" x2="1251.50" y2="986.40" stroke="#951414" stroke-width="3.6" stroke-linecap="butt"/>
<line x1="1253.20" y1="979.90" x2="1253.20" y2="986.40" stroke="#951414" stroke-width="3.6" stroke-linecap="butt"/>
<line x1="1255.80" y1="993.10" x2="1255.80" y2="999.60" stroke="#951414" stroke-width="3.6" stroke-linecap="butt"/>
<line x1="1261.50" y1="993.10" x2="1261.50" y2="999.60" stroke="#951414" stroke-width="3.6" stroke-linecap="butt"/>
<line x1="1276.10" y1="993.10" x2="1276.10" y2="999.60" stroke="#951414" stroke-width="3.6" stroke-linecap="butt"/>
<line x1="1279.00" y1="1007.60" x2="1279.00" y2="1014.10" stroke="#951414" stroke-width="3.6" stroke-linecap="butt"/>
<line x1="1283.80" y1="1007.60" x2="1283.80" y2="1014.10" stroke="#951414" stroke-width="3.6" stroke-linecap="butt"/>
<line x1="1307.50" y1="1018.50" x2="1307.50" y2="1025.00" stroke="#951414" stroke-width="3.6" stroke-linecap="butt"/>
<line x1="1314.50" y1="1038.30" x2="1314.50" y2="1044.80" stroke="#951414" stroke-width="3.6" stroke-linecap="butt"/>
<line x1="1316.50" y1="1038.30" x2="1316.50" y2="1044.80" stroke="#951414" stroke-width="3.6" stroke-linecap="butt"/>
<line x1="1326.60" y1="1057.40" x2="1326.60" y2="1063.90" stroke="#951414" stroke-width="3.6" stroke-linecap="butt"/>
<line x1="1343.30" y1="1057.40" x2="1343.30" y2="1063.90" stroke="#951414" stroke-width="3.6" stroke-linecap="butt"/>
<line x1="1353.60" y1="1057.40" x2="1353.60" y2="1063.90" stroke="#951414" stroke-width="3.6" stroke-linecap="butt"/>
<line x1="1366.30" y1="1088.50" x2="1366.30" y2="1095.00" stroke="#951414" stroke-width="3.6" stroke-linecap="butt"/>
<line x1="1393.20" y1="1088.50" x2="1393.20" y2="1095.00" stroke="#951414" stroke-width="3.6" stroke-linecap="butt"/>
<line x1="1413.80" y1="1088.50" x2="1413.80" y2="1095.00" stroke="#951414" stroke-width="3.6" stroke-linecap="butt"/>
<line x1="1477.00" y1="1088.50" x2="1477.00" y2="1095.00" stroke="#951414" stroke-width="3.6" stroke-linecap="butt"/>
<line x1="1488.00" y1="1088.50" x2="1488.00" y2="1095.00" stroke="#951414" stroke-width="3.6" stroke-linecap="butt"/>
<line x1="1672.30" y1="1088.50" x2="1672.30" y2="1095.00" stroke="#951414" stroke-width="3.6" stroke-linecap="butt"/>
<line x1="252.20" y1="1574.44" x2="252.20" y2="1947.60" stroke="#000" stroke-width="3.8" stroke-linecap="butt"/>
<line x1="237.20" y1="1932.60" x2="793.10" y2="1932.60" stroke="#000" stroke-width="3.8" stroke-linecap="butt"/>
<line x1="237.20" y1="1932.60" x2="252.20" y2="1932.60" stroke="#000" stroke-width="3.8" stroke-linecap="butt"/>
<line x1="243.70" y1="1916.32" x2="252.20" y2="1916.32" stroke="#000" stroke-width="3.8" stroke-linecap="butt"/>
<line x1="243.70" y1="1900.04" x2="252.20" y2="1900.04" stroke="#000" stroke-width="3.8" stroke-linecap="butt"/>
<line x1="243.70" y1="1883.76" x2="252.20" y2="1883.76" stroke="#000" stroke-width="3.8" stroke-linecap="butt"/>
<line x1="243.70" y1="1867.48" x2="252.20" y2="1867.48" stroke="#000" stroke-width="3.8" stroke-linecap="butt"/>
<line x1="243.70" y1="1851.20" x2="252.20" y2="1851.20" stroke="#000" stroke-width="3.8" stroke-linecap="butt"/>
<line x1="243.70" y1="1834.92" x2="252.20" y2="1834.92" stroke="#000" stroke-width="3.8" stroke-linecap="butt"/>
<line x1="243.70" y1="1818.64" x2="252.20" y2="1818.64" stroke="#000" stroke-width="3.8" stroke-linecap="butt"/>
<line x1="243.70" y1="1802.36" x2="252.20" y2="1802.36" stroke="#000" stroke-width="3.8" stroke-linecap="butt"/>
<line x1="243.70" y1="1786.08" x2="252.20" y2="1786.08" stroke="#000" stroke-width="3.8" stroke-linecap="butt"/>
<line x1="237.20" y1="1769.80" x2="252.20" y2="1769.80" stroke="#000" stroke-width="3.8" stroke-linecap="butt"/>
<line x1="243.70" y1="1753.52" x2="252.20" y2="1753.52" stroke="#000" stroke-width="3.8" stroke-linecap="butt"/>
<line x1="243.70" y1="1737.24" x2="252.20" y2="1737.24" stroke="#000" stroke-width="3.8" stroke-linecap="butt"/>
<line x1="243.70" y1="1720.96" x2="252.20" y2="1720.96" stroke="#000" stroke-width="3.8" stroke-linecap="butt"/>
<line x1="243.70" y1="1704.68" x2="252.20" y2="1704.68" stroke="#000" stroke-width="3.8" stroke-linecap="butt"/>
<line x1="243.70" y1="1688.40" x2="252.20" y2="1688.40" stroke="#000" stroke-width="3.8" stroke-linecap="butt"/>
<line x1="243.70" y1="1672.12" x2="252.20" y2="1672.12" stroke="#000" stroke-width="3.8" stroke-linecap="butt"/>
<line x1="243.70" y1="1655.84" x2="252.20" y2="1655.84" stroke="#000" stroke-width="3.8" stroke-linecap="butt"/>
<line x1="243.70" y1="1639.56" x2="252.20" y2="1639.56" stroke="#000" stroke-width="3.8" stroke-linecap="butt"/>
<line x1="243.70" y1="1623.28" x2="252.20" y2="1623.28" stroke="#000" stroke-width="3.8" stroke-linecap="butt"/>
<line x1="237.20" y1="1607.00" x2="252.20" y2="1607.00" stroke="#000" stroke-width="3.8" stroke-linecap="butt"/>
<line x1="243.70" y1="1590.72" x2="252.20" y2="1590.72" stroke="#000" stroke-width="3.8" stroke-linecap="butt"/>
<line x1="243.70" y1="1574.44" x2="252.20" y2="1574.44" stroke="#000" stroke-width="3.8" stroke-linecap="butt"/>
<line x1="252.20" y1="1932.60" x2="252.20" y2="1947.60" stroke="#000" stroke-width="3.8" stroke-linecap="butt"/>
<line x1="386.95" y1="1932.60" x2="386.95" y2="1947.60" stroke="#000" stroke-width="3.8" stroke-linecap="butt"/>
<line x1="521.70" y1="1932.60" x2="521.70" y2="1947.60" stroke="#000" stroke-width="3.8" stroke-linecap="butt"/>
<line x1="656.45" y1="1932.60" x2="656.45" y2="1947.60" stroke="#000" stroke-width="3.8" stroke-linecap="butt"/>
<line x1="791.20" y1="1932.60" x2="791.20" y2="1947.60" stroke="#000" stroke-width="3.8" stroke-linecap="butt"/>
<text transform="translate(216.60,1942.60) scale(1.0700,1)" style="font-size:27.40px;font-weight:bold">0</text>
<text transform="translate(200.33,1779.80) scale(1.0700,1)" style="font-size:27.40px;font-weight:bold">50</text>
<text transform="translate(184.06,1617.00) scale(1.0700,1)" style="font-size:27.40px;font-weight:bold">100</text>
<text transform="translate(244.06,1980.90) scale(1.0700,1)" style="font-size:27.40px;font-weight:bold">0</text>
<text transform="translate(353.97,1980.90) scale(1.0700,1)" style="font-size:27.40px;font-weight:bold">1000</text>
<text transform="translate(489.16,1980.90) scale(1.0700,1)" style="font-size:27.40px;font-weight:bold">2000</text>
<text transform="translate(624.05,1980.90) scale(1.0700,1)" style="font-size:27.40px;font-weight:bold">3000</text>
<text transform="translate(758.95,1980.90) scale(1.0700,1)" style="font-size:27.40px;font-weight:bold">4000</text>
<text transform="translate(428.27,2034.20) scale(1.0200,1)" style="font-size:42.00px;font-weight:bold" fill="#000">Time (days)</text>
<text transform="translate(162.50,1925.28) rotate(-90)" style="font-size:42.80px;font-weight:bold">Percent Survival</text>
<text x="115.21" y="1498.70" style="font-size:46.00px;font-weight:bold" fill="#000">f</text>
<text x="438.26" y="1523.20" style="font-size:43.70px;font-weight:bold" fill="#000">p53</text>
<text x="512.94" y="1511.50" style="font-size:29.00px;font-weight:bold" fill="#000">G245S</text>
<line x1="605.60" y1="1591.90" x2="644.60" y2="1591.90" stroke="#951414" stroke-width="2.2" stroke-linecap="butt"/>
<line x1="625.00" y1="1584.90" x2="625.00" y2="1591.90" stroke="#951414" stroke-width="3.6" stroke-linecap="butt"/>
<text x="665.22" y="1607.40" style="font-size:33.60px;font-weight:bold" fill="#000">BACH1</text>
<text x="786.65" y="1593.40" style="font-size:25.00px;font-weight:bold" fill="#000">high</text>
<text transform="translate(848.34,1607.40) scale(1.0450,1)" style="font-size:33.60px;font-weight:bold" fill="#000">(n=13)</text>
<line x1="605.60" y1="1644.50" x2="644.60" y2="1644.50" stroke="#18189e" stroke-width="2.2" stroke-linecap="butt"/>
<line x1="625.00" y1="1637.50" x2="625.00" y2="1644.50" stroke="#18189e" stroke-width="3.6" stroke-linecap="butt"/>
<text x="665.22" y="1660.00" style="font-size:33.60px;font-weight:bold" fill="#000">BACH1</text>
<text x="786.65" y="1646.00" style="font-size:25.00px;font-weight:bold" fill="#000">low</text>
<text transform="translate(840.44,1660.00) scale(1.0450,1)" style="font-size:33.60px;font-weight:bold" fill="#000">(n=18)</text>
<text x="657.74" y="1764.10" style="font-size:34.80px;font-weight:bold" fill="#000">p=0.6665</text>
<path d="M252.2,1607.0 L294.6,1607.0 L294.6,1627.0 L337.5,1627.0 L337.5,1652.4 L358.4,1652.4 L358.4,1687.8 L403.6,1687.8 L403.6,1736.3 L559.8,1736.3" stroke="#18189e" stroke-width="2.2" fill="none" stroke-linejoin="miter"/>
<line x1="253.80" y1="1600.50" x2="253.80" y2="1607.00" stroke="#18189e" stroke-width="3.6" stroke-linecap="butt"/>
<line x1="281.00" y1="1600.50" x2="281.00" y2="1607.00" stroke="#18189e" stroke-width="3.6" stroke-linecap="butt"/>
<line x1="294.90" y1="1620.50" x2="294.90" y2="1627.00" stroke="#18189e" stroke-width="3.6" stroke-linecap="butt"/>
<line x1="300.50" y1="1620.50" x2="300.50" y2="1627.00" stroke="#18189e" stroke-width="3.6" stroke-linecap="butt"/>
<line x1="337.80" y1="1645.90" x2="337.80" y2="1652.40" stroke="#18189e" stroke-width="3.6" stroke-linecap="butt"/>
<line x1="347.40" y1="1645.90" x2="347.40" y2="1652.40" stroke="#18189e" stroke-width="3.6" stroke-linecap="butt"/>
<line x1="355.20" y1="1645.90" x2="355.20" y2="1652.40" stroke="#18189e" stroke-width="3.6" stroke-linecap="butt"/>
<line x1="358.80" y1="1681.30" x2="358.80" y2="1687.80" stroke="#18189e" stroke-width="3.6" stroke-linecap="butt"/>
<line x1="365.40" y1="1681.30" x2="365.40" y2="1687.80" stroke="#18189e" stroke-width="3.6" stroke-linecap="butt"/>
<line x1="403.90" y1="1729.80" x2="403.90" y2="1736.30" stroke="#18189e" stroke-width="3.6" stroke-linecap="butt"/>
<line x1="427.00" y1="1729.80" x2="427.00" y2="1736.30" stroke="#18189e" stroke-width="3.6" stroke-linecap="butt"/>
<line x1="432.30" y1="1729.80" x2="432.30" y2="1736.30" stroke="#18189e" stroke-width="3.6" stroke-linecap="butt"/>
<line x1="456.90" y1="1729.80" x2="456.90" y2="1736.30" stroke="#18189e" stroke-width="3.6" stroke-linecap="butt"/>
<line x1="559.40" y1="1729.80" x2="559.40" y2="1736.30" stroke="#18189e" stroke-width="3.6" stroke-linecap="butt"/>
<path d="M252.2,1607.0 L321.7,1607.0 L321.7,1636.7 L326.8,1636.7 L326.8,1666.1 L430.5,1666.1 L430.5,1710.6 L700.0,1710.6" stroke="#951414" stroke-width="2.2" fill="none" stroke-linejoin="miter"/>
<line x1="259.70" y1="1600.50" x2="259.70" y2="1607.00" stroke="#951414" stroke-width="3.6" stroke-linecap="butt"/>
<line x1="264.80" y1="1600.50" x2="264.80" y2="1607.00" stroke="#951414" stroke-width="3.6" stroke-linecap="butt"/>
<line x1="321.70" y1="1616.50" x2="321.70" y2="1623.00" stroke="#951414" stroke-width="3.6" stroke-linecap="butt"/>
<line x1="322.00" y1="1630.20" x2="322.00" y2="1636.70" stroke="#951414" stroke-width="3.6" stroke-linecap="butt"/>
<line x1="327.20" y1="1659.60" x2="327.20" y2="1666.10" stroke="#951414" stroke-width="3.6" stroke-linecap="butt"/>
<line x1="372.80" y1="1659.60" x2="372.80" y2="1666.10" stroke="#951414" stroke-width="3.6" stroke-linecap="butt"/>
<line x1="423.50" y1="1659.60" x2="423.50" y2="1666.10" stroke="#951414" stroke-width="3.6" stroke-linecap="butt"/>
<line x1="426.40" y1="1659.60" x2="426.40" y2="1666.10" stroke="#951414" stroke-width="3.6" stroke-linecap="butt"/>
<line x1="430.80" y1="1704.10" x2="430.80" y2="1710.60" stroke="#951414" stroke-width="3.6" stroke-linecap="butt"/>
<line x1="447.90" y1="1704.10" x2="447.90" y2="1710.60" stroke="#951414" stroke-width="3.6" stroke-linecap="butt"/>
<line x1="459.90" y1="1704.10" x2="459.90" y2="1710.60" stroke="#951414" stroke-width="3.6" stroke-linecap="butt"/>
<line x1="464.90" y1="1704.10" x2="464.90" y2="1710.60" stroke="#951414" stroke-width="3.6" stroke-linecap="butt"/>
<line x1="699.20" y1="1704.10" x2="699.20" y2="1710.60" stroke="#951414" stroke-width="3.6" stroke-linecap="butt"/>
<line x1="1206.40" y1="1575.72" x2="1206.40" y2="1950.20" stroke="#000" stroke-width="3.8" stroke-linecap="butt"/>
<line x1="1191.40" y1="1935.20" x2="1748.10" y2="1935.20" stroke="#000" stroke-width="3.8" stroke-linecap="butt"/>
<line x1="1191.40" y1="1935.20" x2="1206.40" y2="1935.20" stroke="#000" stroke-width="3.8" stroke-linecap="butt"/>
<line x1="1197.90" y1="1918.86" x2="1206.40" y2="1918.86" stroke="#000" stroke-width="3.8" stroke-linecap="butt"/>
<line x1="1197.90" y1="1902.52" x2="1206.40" y2="1902.52" stroke="#000" stroke-width="3.8" stroke-linecap="butt"/>
<line x1="1197.90" y1="1886.18" x2="1206.40" y2="1886.18" stroke="#000" stroke-width="3.8" stroke-linecap="butt"/>
<line x1="1197.90" y1="1869.84" x2="1206.40" y2="1869.84" stroke="#000" stroke-width="3.8" stroke-linecap="butt"/>
<line x1="1197.90" y1="1853.50" x2="1206.40" y2="1853.50" stroke="#000" stroke-width="3.8" stroke-linecap="butt"/>
<line x1="1197.90" y1="1837.16" x2="1206.40" y2="1837.16" stroke="#000" stroke-width="3.8" stroke-linecap="butt"/>
<line x1="1197.90" y1="1820.82" x2="1206.40" y2="1820.82" stroke="#000" stroke-width="3.8" stroke-linecap="butt"/>
<line x1="1197.90" y1="1804.48" x2="1206.40" y2="1804.48" stroke="#000" stroke-width="3.8" stroke-linecap="butt"/>
<line x1="1197.90" y1="1788.14" x2="1206.40" y2="1788.14" stroke="#000" stroke-width="3.8" stroke-linecap="butt"/>
<line x1="1191.40" y1="1771.80" x2="1206.40" y2="1771.80" stroke="#000" stroke-width="3.8" stroke-linecap="butt"/>
<line x1="1197.90" y1="1755.46" x2="1206.40" y2="1755.46" stroke="#000" stroke-width="3.8" stroke-linecap="butt"/>
<line x1="1197.90" y1="1739.12" x2="1206.40" y2="1739.12" stroke="#000" stroke-width="3.8" stroke-linecap="butt"/>
<line x1="1197.90" y1="1722.78" x2="1206.40" y2="1722.78" stroke="#000" stroke-width="3.8" stroke-linecap="butt"/>
<line x1="1197.90" y1="1706.44" x2="1206.40" y2="1706.44" stroke="#000" stroke-width="3.8" stroke-linecap="butt"/>
<line x1="1197.90" y1="1690.10" x2="1206.40" y2="1690.10" stroke="#000" stroke-width="3.8" stroke-linecap="butt"/>
<line x1="1197.90" y1="1673.76" x2="1206.40" y2="1673.76" stroke="#000" stroke-width="3.8" stroke-linecap="butt"/>
<line x1="1197.90" y1="1657.42" x2="1206.40" y2="1657.42" stroke="#000" stroke-width="3.8" stroke-linecap="butt"/>
<line x1="1197.90" y1="1641.08" x2="1206.40" y2="1641.08" stroke="#000" stroke-width="3.8" stroke-linecap="butt"/>
<line x1="1197.90" y1="1624.74" x2="1206.40" y2="1624.74" stroke="#000" stroke-width="3.8" stroke-linecap="butt"/>
<line x1="1191.40" y1="1608.40" x2="1206.40" y2="1608.40" stroke="#000" stroke-width="3.8" stroke-linecap="butt"/>
<line x1="1197.90" y1="1592.06" x2="1206.40" y2="1592.06" stroke="#000" stroke-width="3.8" stroke-linecap="butt"/>
<line x1="1197.90" y1="1575.72" x2="1206.40" y2="1575.72" stroke="#000" stroke-width="3.8" stroke-linecap="butt"/>
<line x1="1206.40" y1="1935.20" x2="1206.40" y2="1950.20" stroke="#000" stroke-width="3.8" stroke-linecap="butt"/>
<line x1="1224.39" y1="1935.20" x2="1224.39" y2="1944.20" stroke="#000" stroke-width="3.8" stroke-linecap="butt"/>
<line x1="1242.39" y1="1935.20" x2="1242.39" y2="1944.20" stroke="#000" stroke-width="3.8" stroke-linecap="butt"/>
<line x1="1260.38" y1="1935.20" x2="1260.38" y2="1944.20" stroke="#000" stroke-width="3.8" stroke-linecap="butt"/>
<line x1="1278.37" y1="1935.20" x2="1278.37" y2="1944.20" stroke="#000" stroke-width="3.8" stroke-linecap="butt"/>
<line x1="1296.37" y1="1935.20" x2="1296.37" y2="1944.20" stroke="#000" stroke-width="3.8" stroke-linecap="butt"/>
<line x1="1314.36" y1="1935.20" x2="1314.36" y2="1944.20" stroke="#000" stroke-width="3.8" stroke-linecap="butt"/>
<line x1="1332.35" y1="1935.20" x2="1332.35" y2="1944.20" stroke="#000" stroke-width="3.8" stroke-linecap="butt"/>
<line x1="1350.35" y1="1935.20" x2="1350.35" y2="1944.20" stroke="#000" stroke-width="3.8" stroke-linecap="butt"/>
<line x1="1368.34" y1="1935.20" x2="1368.34" y2="1944.20" stroke="#000" stroke-width="3.8" stroke-linecap="butt"/>
<line x1="1386.33" y1="1935.20" x2="1386.33" y2="1950.20" stroke="#000" stroke-width="3.8" stroke-linecap="butt"/>
<line x1="1404.33" y1="1935.20" x2="1404.33" y2="1944.20" stroke="#000" stroke-width="3.8" stroke-linecap="butt"/>
<line x1="1422.32" y1="1935.20" x2="1422.32" y2="1944.20" stroke="#000" stroke-width="3.8" stroke-linecap="butt"/>
<line x1="1440.31" y1="1935.20" x2="1440.31" y2="1944.20" stroke="#000" stroke-width="3.8" stroke-linecap="butt"/>
<line x1="1458.31" y1="1935.20" x2="1458.31" y2="1944.20" stroke="#000" stroke-width="3.8" stroke-linecap="butt"/>
<line x1="1476.30" y1="1935.20" x2="1476.30" y2="1944.20" stroke="#000" stroke-width="3.8" stroke-linecap="butt"/>
<line x1="1494.29" y1="1935.20" x2="1494.29" y2="1944.20" stroke="#000" stroke-width="3.8" stroke-linecap="butt"/>
<line x1="1512.29" y1="1935.20" x2="1512.29" y2="1944.20" stroke="#000" stroke-width="3.8" stroke-linecap="butt"/>
<line x1="1530.28" y1="1935.20" x2="1530.28" y2="1944.20" stroke="#000" stroke-width="3.8" stroke-linecap="butt"/>
<line x1="1548.27" y1="1935.20" x2="1548.27" y2="1944.20" stroke="#000" stroke-width="3.8" stroke-linecap="butt"/>
<line x1="1566.27" y1="1935.20" x2="1566.27" y2="1950.20" stroke="#000" stroke-width="3.8" stroke-linecap="butt"/>
<line x1="1584.26" y1="1935.20" x2="1584.26" y2="1944.20" stroke="#000" stroke-width="3.8" stroke-linecap="butt"/>
<line x1="1602.25" y1="1935.20" x2="1602.25" y2="1944.20" stroke="#000" stroke-width="3.8" stroke-linecap="butt"/>
<line x1="1620.25" y1="1935.20" x2="1620.25" y2="1944.20" stroke="#000" stroke-width="3.8" stroke-linecap="butt"/>
<line x1="1638.24" y1="1935.20" x2="1638.24" y2="1944.20" stroke="#000" stroke-width="3.8" stroke-linecap="butt"/>
<line x1="1656.23" y1="1935.20" x2="1656.23" y2="1944.20" stroke="#000" stroke-width="3.8" stroke-linecap="butt"/>
<line x1="1674.23" y1="1935.20" x2="1674.23" y2="1944.20" stroke="#000" stroke-width="3.8" stroke-linecap="butt"/>
<line x1="1692.22" y1="1935.20" x2="1692.22" y2="1944.20" stroke="#000" stroke-width="3.8" stroke-linecap="butt"/>
<line x1="1710.21" y1="1935.20" x2="1710.21" y2="1944.20" stroke="#000" stroke-width="3.8" stroke-linecap="butt"/>
<line x1="1728.21" y1="1935.20" x2="1728.21" y2="1944.20" stroke="#000" stroke-width="3.8" stroke-linecap="butt"/>
<line x1="1746.20" y1="1935.20" x2="1746.20" y2="1950.20" stroke="#000" stroke-width="3.8" stroke-linecap="butt"/>
<text transform="translate(1170.80,1945.20) scale(1.0700,1)" style="font-size:27.40px;font-weight:bold">0</text>
<text transform="translate(1154.53,1781.80) scale(1.0700,1)" style="font-size:27.40px;font-weight:bold">50</text>
<text transform="translate(1138.26,1618.40) scale(1.0700,1)" style="font-size:27.40px;font-weight:bold">100</text>
<text transform="translate(1198.26,1983.50) scale(1.0700,1)" style="font-size:27.40px;font-weight:bold">0</text>
<text transform="translate(1353.35,1983.50) scale(1.0700,1)" style="font-size:27.40px;font-weight:bold">1000</text>
<text transform="translate(1533.72,1983.50) scale(1.0700,1)" style="font-size:27.40px;font-weight:bold">2000</text>
<text transform="translate(1713.80,1983.50) scale(1.0700,1)" style="font-size:27.40px;font-weight:bold">3000</text>
<text transform="translate(1380.27,2037.20) scale(1.0200,1)" style="font-size:42.00px;font-weight:bold" fill="#000">Time (days)</text>
<text transform="translate(1124.00,1916.58) rotate(-90)" style="font-size:42.80px;font-weight:bold">Percent Survival</text>
<text x="1086.76" y="1524.00" style="font-size:46.00px;font-weight:bold" fill="#000">g</text>
<text x="1399.66" y="1531.60" style="font-size:43.70px;font-weight:bold" fill="#000">p53</text>
<text x="1473.52" y="1519.60" style="font-size:29.00px;font-weight:bold" fill="#000">R249S</text>
<line x1="1560.50" y1="1593.00" x2="1599.50" y2="1593.00" stroke="#951414" stroke-width="2.2" stroke-linecap="butt"/>
<line x1="1579.90" y1="1586.00" x2="1579.90" y2="1593.00" stroke="#951414" stroke-width="3.6" stroke-linecap="butt"/>
<text x="1620.12" y="1608.50" style="font-size:33.60px;font-weight:bold" fill="#000">BACH1</text>
<text x="1741.55" y="1594.50" style="font-size:25.00px;font-weight:bold" fill="#000">high</text>
<text transform="translate(1803.24,1608.50) scale(1.0450,1)" style="font-size:33.60px;font-weight:bold" fill="#000">(n=11)</text>
<line x1="1560.50" y1="1645.60" x2="1599.50" y2="1645.60" stroke="#18189e" stroke-width="2.2" stroke-linecap="butt"/>
<line x1="1579.90" y1="1638.60" x2="1579.90" y2="1645.60" stroke="#18189e" stroke-width="3.6" stroke-linecap="butt"/>
<text x="1620.12" y="1661.10" style="font-size:33.60px;font-weight:bold" fill="#000">BACH1</text>
<text x="1741.55" y="1647.10" style="font-size:25.00px;font-weight:bold" fill="#000">low</text>
<text transform="translate(1795.34,1661.10) scale(1.0450,1)" style="font-size:33.60px;font-weight:bold" fill="#000">(n=12)</text>
<text x="1676.34" y="1832.90" style="font-size:34.80px;font-weight:bold" fill="#000">p=0.6148</text>
<path d="M1206.4,1608.4 L1228.8,1608.4 L1228.8,1634.7 L1243.2,1634.7 L1243.2,1662.3 L1255.8,1662.3 L1255.8,1689.0 L1257.0,1689.0 L1257.0,1715.3 L1261.2,1715.3 L1261.2,1743.5 L1264.1,1743.5 L1264.1,1771.1 L1268.2,1771.1 L1268.2,1798.2 L1639.0,1798.2" stroke="#18189e" stroke-width="2.2" fill="none" stroke-linejoin="miter"/>
<line x1="1228.90" y1="1628.20" x2="1228.90" y2="1634.70" stroke="#18189e" stroke-width="3.6" stroke-linecap="butt"/>
<line x1="1243.30" y1="1655.80" x2="1243.30" y2="1662.30" stroke="#18189e" stroke-width="3.6" stroke-linecap="butt"/>
<line x1="1255.90" y1="1682.50" x2="1255.90" y2="1689.00" stroke="#18189e" stroke-width="3.6" stroke-linecap="butt"/>
<line x1="1257.10" y1="1708.80" x2="1257.10" y2="1715.30" stroke="#18189e" stroke-width="3.6" stroke-linecap="butt"/>
<line x1="1261.30" y1="1737.00" x2="1261.30" y2="1743.50" stroke="#18189e" stroke-width="3.6" stroke-linecap="butt"/>
<line x1="1264.20" y1="1764.60" x2="1264.20" y2="1771.10" stroke="#18189e" stroke-width="3.6" stroke-linecap="butt"/>
<line x1="1268.50" y1="1791.70" x2="1268.50" y2="1798.20" stroke="#18189e" stroke-width="3.6" stroke-linecap="butt"/>
<line x1="1278.20" y1="1791.70" x2="1278.20" y2="1798.20" stroke="#18189e" stroke-width="3.6" stroke-linecap="butt"/>
<line x1="1337.90" y1="1791.70" x2="1337.90" y2="1798.20" stroke="#18189e" stroke-width="3.6" stroke-linecap="butt"/>
<line x1="1406.50" y1="1791.70" x2="1406.50" y2="1798.20" stroke="#18189e" stroke-width="3.6" stroke-linecap="butt"/>
<line x1="1500.80" y1="1791.70" x2="1500.80" y2="1798.20" stroke="#18189e" stroke-width="3.6" stroke-linecap="butt"/>
<line x1="1638.70" y1="1791.70" x2="1638.70" y2="1798.20" stroke="#18189e" stroke-width="3.6" stroke-linecap="butt"/>
<path d="M1206.4,1608.4 L1222.9,1608.4 L1222.9,1637.6 L1287.5,1637.6 L1287.5,1679.9 L1332.8,1679.9 L1332.8,1721.7 L1336.9,1721.7 L1336.9,1763.7 L1348.5,1763.7 L1348.5,1806.9 L1412.9,1806.9 L1412.9,1850.0 L1607.5,1850.0" stroke="#951414" stroke-width="2.2" fill="none" stroke-linejoin="miter"/>
<line x1="1223.30" y1="1631.10" x2="1223.30" y2="1637.60" stroke="#951414" stroke-width="3.6" stroke-linecap="butt"/>
<line x1="1258.80" y1="1631.10" x2="1258.80" y2="1637.60" stroke="#951414" stroke-width="3.6" stroke-linecap="butt"/>
<line x1="1278.70" y1="1631.10" x2="1278.70" y2="1637.60" stroke="#951414" stroke-width="3.6" stroke-linecap="butt"/>
<line x1="1287.80" y1="1673.40" x2="1287.80" y2="1679.90" stroke="#951414" stroke-width="3.6" stroke-linecap="butt"/>
<line x1="1332.90" y1="1715.20" x2="1332.90" y2="1721.70" stroke="#951414" stroke-width="3.6" stroke-linecap="butt"/>
<line x1="1337.00" y1="1757.20" x2="1337.00" y2="1763.70" stroke="#951414" stroke-width="3.6" stroke-linecap="butt"/>
<line x1="1348.80" y1="1800.40" x2="1348.80" y2="1806.90" stroke="#951414" stroke-width="3.6" stroke-linecap="butt"/>
<line x1="1413.20" y1="1843.50" x2="1413.20" y2="1850.00" stroke="#951414" stroke-width="3.6" stroke-linecap="butt"/>
<line x1="1442.00" y1="1843.50" x2="1442.00" y2="1850.00" stroke="#951414" stroke-width="3.6" stroke-linecap="butt"/>
<line x1="1606.80" y1="1843.50" x2="1606.80" y2="1850.00" stroke="#951414" stroke-width="3.6" stroke-linecap="butt"/>
<line x1="260.90" y1="2227.19" x2="260.90" y2="2602.00" stroke="#000" stroke-width="3.8" stroke-linecap="butt"/>
<line x1="245.90" y1="2587.00" x2="801.70" y2="2587.00" stroke="#000" stroke-width="3.8" stroke-linecap="butt"/>
<line x1="245.90" y1="2587.00" x2="260.90" y2="2587.00" stroke="#000" stroke-width="3.8" stroke-linecap="butt"/>
<line x1="252.40" y1="2570.64" x2="260.90" y2="2570.64" stroke="#000" stroke-width="3.8" stroke-linecap="butt"/>
<line x1="252.40" y1="2554.29" x2="260.90" y2="2554.29" stroke="#000" stroke-width="3.8" stroke-linecap="butt"/>
<line x1="252.40" y1="2537.93" x2="260.90" y2="2537.93" stroke="#000" stroke-width="3.8" stroke-linecap="butt"/>
<line x1="252.40" y1="2521.58" x2="260.90" y2="2521.58" stroke="#000" stroke-width="3.8" stroke-linecap="butt"/>
<line x1="252.40" y1="2505.22" x2="260.90" y2="2505.22" stroke="#000" stroke-width="3.8" stroke-linecap="butt"/>
<line x1="252.40" y1="2488.87" x2="260.90" y2="2488.87" stroke="#000" stroke-width="3.8" stroke-linecap="butt"/>
<line x1="252.40" y1="2472.51" x2="260.90" y2="2472.51" stroke="#000" stroke-width="3.8" stroke-linecap="butt"/>
<line x1="252.40" y1="2456.16" x2="260.90" y2="2456.16" stroke="#000" stroke-width="3.8" stroke-linecap="butt"/>
<line x1="252.40" y1="2439.80" x2="260.90" y2="2439.80" stroke="#000" stroke-width="3.8" stroke-linecap="butt"/>
<line x1="245.90" y1="2423.45" x2="260.90" y2="2423.45" stroke="#000" stroke-width="3.8" stroke-linecap="butt"/>
<line x1="252.40" y1="2407.10" x2="260.90" y2="2407.10" stroke="#000" stroke-width="3.8" stroke-linecap="butt"/>
<line x1="252.40" y1="2390.74" x2="260.90" y2="2390.74" stroke="#000" stroke-width="3.8" stroke-linecap="butt"/>
<line x1="252.40" y1="2374.39" x2="260.90" y2="2374.39" stroke="#000" stroke-width="3.8" stroke-linecap="butt"/>
<line x1="252.40" y1="2358.03" x2="260.90" y2="2358.03" stroke="#000" stroke-width="3.8" stroke-linecap="butt"/>
<line x1="252.40" y1="2341.68" x2="260.90" y2="2341.68" stroke="#000" stroke-width="3.8" stroke-linecap="butt"/>
<line x1="252.40" y1="2325.32" x2="260.90" y2="2325.32" stroke="#000" stroke-width="3.8" stroke-linecap="butt"/>
<line x1="252.40" y1="2308.97" x2="260.90" y2="2308.97" stroke="#000" stroke-width="3.8" stroke-linecap="butt"/>
<line x1="252.40" y1="2292.61" x2="260.90" y2="2292.61" stroke="#000" stroke-width="3.8" stroke-linecap="butt"/>
<line x1="252.40" y1="2276.26" x2="260.90" y2="2276.26" stroke="#000" stroke-width="3.8" stroke-linecap="butt"/>
<line x1="245.90" y1="2259.90" x2="260.90" y2="2259.90" stroke="#000" stroke-width="3.8" stroke-linecap="butt"/>
<line x1="252.40" y1="2243.55" x2="260.90" y2="2243.55" stroke="#000" stroke-width="3.8" stroke-linecap="butt"/>
<line x1="252.40" y1="2227.19" x2="260.90" y2="2227.19" stroke="#000" stroke-width="3.8" stroke-linecap="butt"/>
<line x1="260.90" y1="2587.00" x2="260.90" y2="2602.00" stroke="#000" stroke-width="3.8" stroke-linecap="butt"/>
<line x1="368.68" y1="2587.00" x2="368.68" y2="2602.00" stroke="#000" stroke-width="3.8" stroke-linecap="butt"/>
<line x1="476.46" y1="2587.00" x2="476.46" y2="2602.00" stroke="#000" stroke-width="3.8" stroke-linecap="butt"/>
<line x1="584.24" y1="2587.00" x2="584.24" y2="2602.00" stroke="#000" stroke-width="3.8" stroke-linecap="butt"/>
<line x1="692.02" y1="2587.00" x2="692.02" y2="2602.00" stroke="#000" stroke-width="3.8" stroke-linecap="butt"/>
<line x1="799.80" y1="2587.00" x2="799.80" y2="2602.00" stroke="#000" stroke-width="3.8" stroke-linecap="butt"/>
<text transform="translate(225.30,2597.00) scale(1.0700,1)" style="font-size:27.40px;font-weight:bold">0</text>
<text transform="translate(209.03,2433.45) scale(1.0700,1)" style="font-size:27.40px;font-weight:bold">50</text>
<text transform="translate(192.76,2269.90) scale(1.0700,1)" style="font-size:27.40px;font-weight:bold">100</text>
<text transform="translate(252.76,2635.30) scale(1.0700,1)" style="font-size:27.40px;font-weight:bold">0</text>
<text transform="translate(335.70,2635.30) scale(1.0700,1)" style="font-size:27.40px;font-weight:bold">1000</text>
<text transform="translate(443.92,2635.30) scale(1.0700,1)" style="font-size:27.40px;font-weight:bold">2000</text>
<text transform="translate(551.84,2635.30) scale(1.0700,1)" style="font-size:27.40px;font-weight:bold">3000</text>
<text transform="translate(659.77,2635.30) scale(1.0700,1)" style="font-size:27.40px;font-weight:bold">4000</text>
<text transform="translate(767.33,2635.30) scale(1.0700,1)" style="font-size:27.40px;font-weight:bold">5000</text>
<text transform="translate(425.17,2692.30) scale(1.0200,1)" style="font-size:42.00px;font-weight:bold" fill="#000">Time (days)</text>
<text transform="translate(170.50,2585.18) rotate(-90)" style="font-size:42.80px;font-weight:bold">Percent Survival</text>
<text x="118.38" y="2181.90" style="font-size:46.00px;font-weight:bold" fill="#000">h</text>
<text x="443.76" y="2179.50" style="font-size:43.70px;font-weight:bold" fill="#000">p53</text>
<text x="517.62" y="2167.50" style="font-size:29.00px;font-weight:bold" fill="#000">R282W</text>
<line x1="605.60" y1="2245.20" x2="644.60" y2="2245.20" stroke="#951414" stroke-width="2.2" stroke-linecap="butt"/>
<line x1="625.00" y1="2238.20" x2="625.00" y2="2245.20" stroke="#951414" stroke-width="3.6" stroke-linecap="butt"/>
<text x="665.22" y="2260.70" style="font-size:33.60px;font-weight:bold" fill="#000">BACH1</text>
<text x="786.65" y="2246.70" style="font-size:25.00px;font-weight:bold" fill="#000">high</text>
<text transform="translate(848.34,2260.70) scale(1.0450,1)" style="font-size:33.60px;font-weight:bold" fill="#000">(n=36)</text>
<line x1="605.60" y1="2297.80" x2="644.60" y2="2297.80" stroke="#18189e" stroke-width="2.2" stroke-linecap="butt"/>
<line x1="625.00" y1="2290.80" x2="625.00" y2="2297.80" stroke="#18189e" stroke-width="3.6" stroke-linecap="butt"/>
<text x="665.22" y="2313.30" style="font-size:33.60px;font-weight:bold" fill="#000">BACH1</text>
<text x="786.65" y="2299.30" style="font-size:25.00px;font-weight:bold" fill="#000">low</text>
<text transform="translate(840.44,2313.30) scale(1.0450,1)" style="font-size:33.60px;font-weight:bold" fill="#000">(n=36)</text>
<text x="720.34" y="2487.00" style="font-size:34.80px;font-weight:bold" fill="#000">p=0.8513</text>
<path d="M260.9,2259.9 L264.4,2259.9 L264.4,2269.7 L278.0,2269.7 L278.0,2280.1 L283.0,2280.1 L283.0,2288.5 L286.0,2288.5 L286.0,2308.8 L301.5,2308.8 L301.5,2319.6 L313.8,2319.6 L313.8,2329.9 L319.9,2329.9 L319.9,2356.6 L334.0,2356.6 L334.0,2371.3 L363.1,2371.3 L363.1,2395.1 L424.5,2395.1 L424.5,2433.4 L429.9,2433.4 L429.9,2471.2 L448.7,2471.2 L448.7,2510.5 L464.7,2510.5 L464.7,2548.8 L652.7,2548.8" stroke="#18189e" stroke-width="2.2" fill="none" stroke-linejoin="miter"/>
<line x1="278.30" y1="2273.60" x2="278.30" y2="2280.10" stroke="#18189e" stroke-width="3.6" stroke-linecap="butt"/>
<line x1="280.50" y1="2273.60" x2="280.50" y2="2280.10" stroke="#18189e" stroke-width="3.6" stroke-linecap="butt"/>
<line x1="283.60" y1="2282.00" x2="283.60" y2="2288.50" stroke="#18189e" stroke-width="3.6" stroke-linecap="butt"/>
<line x1="286.30" y1="2302.30" x2="286.30" y2="2308.80" stroke="#18189e" stroke-width="3.6" stroke-linecap="butt"/>
<line x1="296.80" y1="2302.30" x2="296.80" y2="2308.80" stroke="#18189e" stroke-width="3.6" stroke-linecap="butt"/>
<line x1="299.00" y1="2302.30" x2="299.00" y2="2308.80" stroke="#18189e" stroke-width="3.6" stroke-linecap="butt"/>
<line x1="301.00" y1="2302.30" x2="301.00" y2="2308.80" stroke="#18189e" stroke-width="3.6" stroke-linecap="butt"/>
<line x1="302.00" y1="2313.10" x2="302.00" y2="2319.60" stroke="#18189e" stroke-width="3.6" stroke-linecap="butt"/>
<line x1="314.50" y1="2323.40" x2="314.50" y2="2329.90" stroke="#18189e" stroke-width="3.6" stroke-linecap="butt"/>
<line x1="316.50" y1="2323.40" x2="316.50" y2="2329.90" stroke="#18189e" stroke-width="3.6" stroke-linecap="butt"/>
<line x1="320.50" y1="2350.10" x2="320.50" y2="2356.60" stroke="#18189e" stroke-width="3.6" stroke-linecap="butt"/>
<line x1="321.60" y1="2350.10" x2="321.60" y2="2356.60" stroke="#18189e" stroke-width="3.6" stroke-linecap="butt"/>
<line x1="329.00" y1="2350.10" x2="329.00" y2="2356.60" stroke="#18189e" stroke-width="3.6" stroke-linecap="butt"/>
<line x1="334.30" y1="2364.80" x2="334.30" y2="2371.30" stroke="#18189e" stroke-width="3.6" stroke-linecap="butt"/>
<line x1="343.00" y1="2364.80" x2="343.00" y2="2371.30" stroke="#18189e" stroke-width="3.6" stroke-linecap="butt"/>
<line x1="347.10" y1="2364.80" x2="347.10" y2="2371.30" stroke="#18189e" stroke-width="3.6" stroke-linecap="butt"/>
<line x1="349.20" y1="2364.80" x2="349.20" y2="2371.30" stroke="#18189e" stroke-width="3.6" stroke-linecap="butt"/>
<line x1="351.30" y1="2364.80" x2="351.30" y2="2371.30" stroke="#18189e" stroke-width="3.6" stroke-linecap="butt"/>
<line x1="358.70" y1="2364.80" x2="358.70" y2="2371.30" stroke="#18189e" stroke-width="3.6" stroke-linecap="butt"/>
<line x1="363.40" y1="2388.60" x2="363.40" y2="2395.10" stroke="#18189e" stroke-width="3.6" stroke-linecap="butt"/>
<line x1="380.90" y1="2388.60" x2="380.90" y2="2395.10" stroke="#18189e" stroke-width="3.6" stroke-linecap="butt"/>
<line x1="386.60" y1="2388.60" x2="386.60" y2="2395.10" stroke="#18189e" stroke-width="3.6" stroke-linecap="butt"/>
<line x1="424.70" y1="2426.90" x2="424.70" y2="2433.40" stroke="#18189e" stroke-width="3.6" stroke-linecap="butt"/>
<line x1="430.20" y1="2464.70" x2="430.20" y2="2471.20" stroke="#18189e" stroke-width="3.6" stroke-linecap="butt"/>
<line x1="449.00" y1="2504.00" x2="449.00" y2="2510.50" stroke="#18189e" stroke-width="3.6" stroke-linecap="butt"/>
<line x1="465.00" y1="2542.30" x2="465.00" y2="2548.80" stroke="#18189e" stroke-width="3.6" stroke-linecap="butt"/>
<line x1="652.30" y1="2542.30" x2="652.30" y2="2548.80" stroke="#18189e" stroke-width="3.6" stroke-linecap="butt"/>
<path d="M260.9,2259.9 L264.4,2259.9 L264.4,2269.7 L270.5,2269.7 L270.5,2275.0 L272.0,2275.0 L272.0,2283.0 L273.5,2283.0 L273.5,2290.0 L275.0,2290.0 L275.0,2297.0 L276.5,2297.0 L276.5,2305.0 L278.0,2305.0 L278.0,2312.0 L279.5,2312.0 L279.5,2320.0 L280.5,2320.0 L280.5,2328.5 L296.8,2328.5 L296.8,2338.8 L303.0,2338.8 L303.0,2348.7 L310.9,2348.7 L310.9,2358.0 L312.0,2358.0 L312.0,2368.9 L326.6,2368.9 L326.6,2380.3 L331.5,2380.3 L331.5,2392.6 L339.4,2392.6 L339.4,2405.8 L353.7,2405.8 L353.7,2436.2 L606.8,2436.2 L606.8,2511.2 L719.6,2511.2" stroke="#951414" stroke-width="2.2" fill="none" stroke-linejoin="miter"/>
<line x1="262.50" y1="2253.40" x2="262.50" y2="2259.90" stroke="#951414" stroke-width="3.6" stroke-linecap="butt"/>
<line x1="263.50" y1="2253.40" x2="263.50" y2="2259.90" stroke="#951414" stroke-width="3.6" stroke-linecap="butt"/>
<line x1="270.80" y1="2268.50" x2="270.80" y2="2275.00" stroke="#951414" stroke-width="3.6" stroke-linecap="butt"/>
<line x1="272.50" y1="2276.50" x2="272.50" y2="2283.00" stroke="#951414" stroke-width="3.6" stroke-linecap="butt"/>
<line x1="274.00" y1="2283.50" x2="274.00" y2="2290.00" stroke="#951414" stroke-width="3.6" stroke-linecap="butt"/>
<line x1="276.00" y1="2290.50" x2="276.00" y2="2297.00" stroke="#951414" stroke-width="3.6" stroke-linecap="butt"/>
<line x1="278.50" y1="2305.50" x2="278.50" y2="2312.00" stroke="#951414" stroke-width="3.6" stroke-linecap="butt"/>
<line x1="280.50" y1="2322.00" x2="280.50" y2="2328.50" stroke="#951414" stroke-width="3.6" stroke-linecap="butt"/>
<line x1="297.20" y1="2332.30" x2="297.20" y2="2338.80" stroke="#951414" stroke-width="3.6" stroke-linecap="butt"/>
<line x1="303.40" y1="2342.20" x2="303.40" y2="2348.70" stroke="#951414" stroke-width="3.6" stroke-linecap="butt"/>
<line x1="311.50" y1="2351.50" x2="311.50" y2="2358.00" stroke="#951414" stroke-width="3.6" stroke-linecap="butt"/>
<line x1="314.00" y1="2362.40" x2="314.00" y2="2368.90" stroke="#951414" stroke-width="3.6" stroke-linecap="butt"/>
<line x1="317.00" y1="2362.40" x2="317.00" y2="2368.90" stroke="#951414" stroke-width="3.6" stroke-linecap="butt"/>
<line x1="323.60" y1="2362.40" x2="323.60" y2="2368.90" stroke="#951414" stroke-width="3.6" stroke-linecap="butt"/>
<line x1="326.80" y1="2373.80" x2="326.80" y2="2380.30" stroke="#951414" stroke-width="3.6" stroke-linecap="butt"/>
<line x1="331.80" y1="2386.10" x2="331.80" y2="2392.60" stroke="#951414" stroke-width="3.6" stroke-linecap="butt"/>
<line x1="339.60" y1="2399.30" x2="339.60" y2="2405.80" stroke="#951414" stroke-width="3.6" stroke-linecap="butt"/>
<line x1="346.00" y1="2399.30" x2="346.00" y2="2405.80" stroke="#951414" stroke-width="3.6" stroke-linecap="butt"/>
<line x1="353.70" y1="2411.50" x2="353.70" y2="2418.00" stroke="#951414" stroke-width="3.6" stroke-linecap="butt"/>
<line x1="354.00" y1="2429.70" x2="354.00" y2="2436.20" stroke="#951414" stroke-width="3.6" stroke-linecap="butt"/>
<line x1="370.20" y1="2429.70" x2="370.20" y2="2436.20" stroke="#951414" stroke-width="3.6" stroke-linecap="butt"/>
<line x1="385.80" y1="2429.70" x2="385.80" y2="2436.20" stroke="#951414" stroke-width="3.6" stroke-linecap="butt"/>
<line x1="391.60" y1="2429.70" x2="391.60" y2="2436.20" stroke="#951414" stroke-width="3.6" stroke-linecap="butt"/>
<line x1="458.20" y1="2429.70" x2="458.20" y2="2436.20" stroke="#951414" stroke-width="3.6" stroke-linecap="butt"/>
<line x1="460.80" y1="2429.70" x2="460.80" y2="2436.20" stroke="#951414" stroke-width="3.6" stroke-linecap="butt"/>
<line x1="463.10" y1="2429.70" x2="463.10" y2="2436.20" stroke="#951414" stroke-width="3.6" stroke-linecap="butt"/>
<line x1="477.10" y1="2429.70" x2="477.10" y2="2436.20" stroke="#951414" stroke-width="3.6" stroke-linecap="butt"/>
<line x1="545.70" y1="2429.70" x2="545.70" y2="2436.20" stroke="#951414" stroke-width="3.6" stroke-linecap="butt"/>
<line x1="607.00" y1="2504.70" x2="607.00" y2="2511.20" stroke="#951414" stroke-width="3.6" stroke-linecap="butt"/>
<line x1="718.50" y1="2504.70" x2="718.50" y2="2511.20" stroke="#951414" stroke-width="3.6" stroke-linecap="butt"/>
<line x1="1204.00" y1="2226.90" x2="1204.00" y2="2609.30" stroke="#000" stroke-width="3.8" stroke-linecap="butt"/>
<line x1="1189.00" y1="2594.30" x2="1755.70" y2="2594.30" stroke="#000" stroke-width="3.8" stroke-linecap="butt"/>
<line x1="1189.00" y1="2594.30" x2="1204.00" y2="2594.30" stroke="#000" stroke-width="3.8" stroke-linecap="butt"/>
<line x1="1195.50" y1="2577.60" x2="1204.00" y2="2577.60" stroke="#000" stroke-width="3.8" stroke-linecap="butt"/>
<line x1="1195.50" y1="2560.90" x2="1204.00" y2="2560.90" stroke="#000" stroke-width="3.8" stroke-linecap="butt"/>
<line x1="1195.50" y1="2544.20" x2="1204.00" y2="2544.20" stroke="#000" stroke-width="3.8" stroke-linecap="butt"/>
<line x1="1195.50" y1="2527.50" x2="1204.00" y2="2527.50" stroke="#000" stroke-width="3.8" stroke-linecap="butt"/>
<line x1="1195.50" y1="2510.80" x2="1204.00" y2="2510.80" stroke="#000" stroke-width="3.8" stroke-linecap="butt"/>
<line x1="1195.50" y1="2494.10" x2="1204.00" y2="2494.10" stroke="#000" stroke-width="3.8" stroke-linecap="butt"/>
<line x1="1195.50" y1="2477.40" x2="1204.00" y2="2477.40" stroke="#000" stroke-width="3.8" stroke-linecap="butt"/>
<line x1="1195.50" y1="2460.70" x2="1204.00" y2="2460.70" stroke="#000" stroke-width="3.8" stroke-linecap="butt"/>
<line x1="1195.50" y1="2444.00" x2="1204.00" y2="2444.00" stroke="#000" stroke-width="3.8" stroke-linecap="butt"/>
<line x1="1189.00" y1="2427.30" x2="1204.00" y2="2427.30" stroke="#000" stroke-width="3.8" stroke-linecap="butt"/>
<line x1="1195.50" y1="2410.60" x2="1204.00" y2="2410.60" stroke="#000" stroke-width="3.8" stroke-linecap="butt"/>
<line x1="1195.50" y1="2393.90" x2="1204.00" y2="2393.90" stroke="#000" stroke-width="3.8" stroke-linecap="butt"/>
<line x1="1195.50" y1="2377.20" x2="1204.00" y2="2377.20" stroke="#000" stroke-width="3.8" stroke-linecap="butt"/>
<line x1="1195.50" y1="2360.50" x2="1204.00" y2="2360.50" stroke="#000" stroke-width="3.8" stroke-linecap="butt"/>
<line x1="1195.50" y1="2343.80" x2="1204.00" y2="2343.80" stroke="#000" stroke-width="3.8" stroke-linecap="butt"/>
<line x1="1195.50" y1="2327.10" x2="1204.00" y2="2327.10" stroke="#000" stroke-width="3.8" stroke-linecap="butt"/>
<line x1="1195.50" y1="2310.40" x2="1204.00" y2="2310.40" stroke="#000" stroke-width="3.8" stroke-linecap="butt"/>
<line x1="1195.50" y1="2293.70" x2="1204.00" y2="2293.70" stroke="#000" stroke-width="3.8" stroke-linecap="butt"/>
<line x1="1195.50" y1="2277.00" x2="1204.00" y2="2277.00" stroke="#000" stroke-width="3.8" stroke-linecap="butt"/>
<line x1="1189.00" y1="2260.30" x2="1204.00" y2="2260.30" stroke="#000" stroke-width="3.8" stroke-linecap="butt"/>
<line x1="1195.50" y1="2243.60" x2="1204.00" y2="2243.60" stroke="#000" stroke-width="3.8" stroke-linecap="butt"/>
<line x1="1195.50" y1="2226.90" x2="1204.00" y2="2226.90" stroke="#000" stroke-width="3.8" stroke-linecap="butt"/>
<line x1="1204.00" y1="2594.30" x2="1204.00" y2="2609.30" stroke="#000" stroke-width="3.8" stroke-linecap="butt"/>
<line x1="1222.33" y1="2594.30" x2="1222.33" y2="2603.30" stroke="#000" stroke-width="3.8" stroke-linecap="butt"/>
<line x1="1240.65" y1="2594.30" x2="1240.65" y2="2603.30" stroke="#000" stroke-width="3.8" stroke-linecap="butt"/>
<line x1="1258.98" y1="2594.30" x2="1258.98" y2="2603.30" stroke="#000" stroke-width="3.8" stroke-linecap="butt"/>
<line x1="1277.31" y1="2594.30" x2="1277.31" y2="2603.30" stroke="#000" stroke-width="3.8" stroke-linecap="butt"/>
<line x1="1295.63" y1="2594.30" x2="1295.63" y2="2603.30" stroke="#000" stroke-width="3.8" stroke-linecap="butt"/>
<line x1="1313.96" y1="2594.30" x2="1313.96" y2="2603.30" stroke="#000" stroke-width="3.8" stroke-linecap="butt"/>
<line x1="1332.29" y1="2594.30" x2="1332.29" y2="2603.30" stroke="#000" stroke-width="3.8" stroke-linecap="butt"/>
<line x1="1350.61" y1="2594.30" x2="1350.61" y2="2603.30" stroke="#000" stroke-width="3.8" stroke-linecap="butt"/>
<line x1="1368.94" y1="2594.30" x2="1368.94" y2="2603.30" stroke="#000" stroke-width="3.8" stroke-linecap="butt"/>
<line x1="1387.27" y1="2594.30" x2="1387.27" y2="2609.30" stroke="#000" stroke-width="3.8" stroke-linecap="butt"/>
<line x1="1405.59" y1="2594.30" x2="1405.59" y2="2603.30" stroke="#000" stroke-width="3.8" stroke-linecap="butt"/>
<line x1="1423.92" y1="2594.30" x2="1423.92" y2="2603.30" stroke="#000" stroke-width="3.8" stroke-linecap="butt"/>
<line x1="1442.25" y1="2594.30" x2="1442.25" y2="2603.30" stroke="#000" stroke-width="3.8" stroke-linecap="butt"/>
<line x1="1460.57" y1="2594.30" x2="1460.57" y2="2603.30" stroke="#000" stroke-width="3.8" stroke-linecap="butt"/>
<line x1="1478.90" y1="2594.30" x2="1478.90" y2="2603.30" stroke="#000" stroke-width="3.8" stroke-linecap="butt"/>
<line x1="1497.23" y1="2594.30" x2="1497.23" y2="2603.30" stroke="#000" stroke-width="3.8" stroke-linecap="butt"/>
<line x1="1515.55" y1="2594.30" x2="1515.55" y2="2603.30" stroke="#000" stroke-width="3.8" stroke-linecap="butt"/>
<line x1="1533.88" y1="2594.30" x2="1533.88" y2="2603.30" stroke="#000" stroke-width="3.8" stroke-linecap="butt"/>
<line x1="1552.21" y1="2594.30" x2="1552.21" y2="2603.30" stroke="#000" stroke-width="3.8" stroke-linecap="butt"/>
<line x1="1570.53" y1="2594.30" x2="1570.53" y2="2609.30" stroke="#000" stroke-width="3.8" stroke-linecap="butt"/>
<line x1="1588.86" y1="2594.30" x2="1588.86" y2="2603.30" stroke="#000" stroke-width="3.8" stroke-linecap="butt"/>
<line x1="1607.19" y1="2594.30" x2="1607.19" y2="2603.30" stroke="#000" stroke-width="3.8" stroke-linecap="butt"/>
<line x1="1625.51" y1="2594.30" x2="1625.51" y2="2603.30" stroke="#000" stroke-width="3.8" stroke-linecap="butt"/>
<line x1="1643.84" y1="2594.30" x2="1643.84" y2="2603.30" stroke="#000" stroke-width="3.8" stroke-linecap="butt"/>
<line x1="1662.17" y1="2594.30" x2="1662.17" y2="2603.30" stroke="#000" stroke-width="3.8" stroke-linecap="butt"/>
<line x1="1680.49" y1="2594.30" x2="1680.49" y2="2603.30" stroke="#000" stroke-width="3.8" stroke-linecap="butt"/>
<line x1="1698.82" y1="2594.30" x2="1698.82" y2="2603.30" stroke="#000" stroke-width="3.8" stroke-linecap="butt"/>
<line x1="1717.15" y1="2594.30" x2="1717.15" y2="2603.30" stroke="#000" stroke-width="3.8" stroke-linecap="butt"/>
<line x1="1735.47" y1="2594.30" x2="1735.47" y2="2603.30" stroke="#000" stroke-width="3.8" stroke-linecap="butt"/>
<line x1="1753.80" y1="2594.30" x2="1753.80" y2="2609.30" stroke="#000" stroke-width="3.8" stroke-linecap="butt"/>
<text transform="translate(1168.40,2604.30) scale(1.0700,1)" style="font-size:27.40px;font-weight:bold">0</text>
<text transform="translate(1152.13,2437.30) scale(1.0700,1)" style="font-size:27.40px;font-weight:bold">50</text>
<text transform="translate(1135.86,2270.30) scale(1.0700,1)" style="font-size:27.40px;font-weight:bold">100</text>
<text transform="translate(1195.86,2642.60) scale(1.0700,1)" style="font-size:27.40px;font-weight:bold">0</text>
<text transform="translate(1354.80,2642.60) scale(1.0700,1)" style="font-size:27.40px;font-weight:bold">5000</text>
<text transform="translate(1529.41,2642.60) scale(1.0700,1)" style="font-size:27.40px;font-weight:bold">10000</text>
<text transform="translate(1712.68,2642.60) scale(1.0700,1)" style="font-size:27.40px;font-weight:bold">15000</text>
<text transform="translate(1376.07,2702.90) scale(1.0200,1)" style="font-size:42.00px;font-weight:bold" fill="#000">Time (days)</text>
<text transform="translate(1120.10,2591.48) rotate(-90)" style="font-size:42.80px;font-weight:bold">Percent Survival</text>
<text x="1092.68" y="2169.30" style="font-size:46.00px;font-weight:bold" fill="#000">i</text>
<text x="1364.52" y="2178.20" style="font-size:42.80px;font-weight:bold" fill="#000">p53 wild type</text>
<line x1="1564.60" y1="2245.10" x2="1603.60" y2="2245.10" stroke="#951414" stroke-width="2.2" stroke-linecap="butt"/>
<line x1="1584.00" y1="2238.10" x2="1584.00" y2="2245.10" stroke="#951414" stroke-width="3.6" stroke-linecap="butt"/>
<text x="1626.16" y="2260.60" style="font-size:34.47px;font-weight:bold" fill="#000">BACH1</text>
<text x="1750.75" y="2246.60" style="font-size:25.65px;font-weight:bold" fill="#000">high</text>
<text transform="translate(1814.05,2260.60) scale(1.0450,1)" style="font-size:34.47px;font-weight:bold" fill="#000">(n=2770)</text>
<line x1="1564.60" y1="2297.70" x2="1603.60" y2="2297.70" stroke="#18189e" stroke-width="2.2" stroke-linecap="butt"/>
<line x1="1584.00" y1="2290.70" x2="1584.00" y2="2297.70" stroke="#18189e" stroke-width="3.6" stroke-linecap="butt"/>
<text x="1626.16" y="2313.20" style="font-size:34.47px;font-weight:bold" fill="#000">BACH1</text>
<text x="1750.75" y="2299.20" style="font-size:25.65px;font-weight:bold" fill="#000">low</text>
<text transform="translate(1805.94,2313.20) scale(1.0450,1)" style="font-size:34.47px;font-weight:bold" fill="#000">(n=2772)</text>
<text x="1629.14" y="2500.50" style="font-size:34.80px;font-weight:bold" fill="#000">p=0.0195</text>
<path d="M1204.0,2258.5 L1204.5,2254.4 L1209.7,2264.7 L1215.6,2276.4 L1221.4,2289.7 L1227.3,2299.9 L1233.2,2308.8 L1239.1,2319.0 L1247.9,2329.3 L1253.8,2335.2 L1261.1,2345.5 L1268.4,2354.3 L1275.8,2361.6 L1283.1,2367.5 L1289.0,2370.4 L1296.4,2377.8 L1303.7,2385.1 L1311.0,2391.0 L1318.4,2396.9 L1325.7,2402.8 L1333.1,2407.2 L1340.4,2411.6 L1347.8,2416.0 L1353.6,2423.3 L1359.5,2432.1 L1365.4,2438.0 L1372.7,2442.4 L1378.6,2446.8 L1382.6,2452.3 L1390.3,2456.5 L1393.8,2464.3" stroke="#1616b0" stroke-width="6.0" fill="none" stroke-linejoin="round" stroke-linecap="round"/>
<path d="M1204.0,2258.5 L1204.5,2254.4 L1209.7,2264.7 L1215.6,2279.4 L1220.0,2292.6 L1224.4,2304.3 L1228.8,2314.6 L1234.7,2324.9 L1239.1,2332.3 L1245.0,2339.6 L1252.3,2345.5 L1258.2,2355.8 L1265.5,2364.6 L1272.9,2373.4 L1280.2,2382.2 L1286.1,2387.3 L1292.0,2389.5 L1297.8,2395.4 L1305.2,2398.4 L1312.5,2405.7 L1321.3,2413.0 L1328.7,2416.0 L1336.0,2421.9 L1343.4,2424.1 L1350.7,2425.5 L1356.6,2427.0 L1372.7,2427.4 L1381.2,2432.6 L1389.6,2436.8 L1396.7,2443.8 L1400.9,2452.3" stroke="#a81212" stroke-width="6.0" fill="none" stroke-linejoin="round" stroke-linecap="round"/>
<path d="M1393.8,2465.7 L1445.3,2465.7 L1445.3,2484.7 L1458.3,2484.7 L1458.3,2502.9 L1479.0,2502.9 L1479.0,2525.4 L1503.4,2525.4 L1503.4,2559.4 L1557.3,2559.4" stroke="#18189e" stroke-width="2.4" fill="none" stroke-linejoin="miter"/>
<line x1="1398.00" y1="2459.20" x2="1398.00" y2="2465.70" stroke="#18189e" stroke-width="3.6" stroke-linecap="butt"/>
<line x1="1407.00" y1="2459.20" x2="1407.00" y2="2465.70" stroke="#18189e" stroke-width="3.6" stroke-linecap="butt"/>
<line x1="1409.50" y1="2459.20" x2="1409.50" y2="2465.70" stroke="#18189e" stroke-width="3.6" stroke-linecap="butt"/>
<line x1="1412.00" y1="2459.20" x2="1412.00" y2="2465.70" stroke="#18189e" stroke-width="3.6" stroke-linecap="butt"/>
<line x1="1446.00" y1="2478.20" x2="1446.00" y2="2484.70" stroke="#18189e" stroke-width="3.6" stroke-linecap="butt"/>
<line x1="1449.00" y1="2478.20" x2="1449.00" y2="2484.70" stroke="#18189e" stroke-width="3.6" stroke-linecap="butt"/>
<line x1="1460.00" y1="2496.40" x2="1460.00" y2="2502.90" stroke="#18189e" stroke-width="3.6" stroke-linecap="butt"/>
<line x1="1463.00" y1="2496.40" x2="1463.00" y2="2502.90" stroke="#18189e" stroke-width="3.6" stroke-linecap="butt"/>
<line x1="1472.00" y1="2496.40" x2="1472.00" y2="2502.90" stroke="#18189e" stroke-width="3.6" stroke-linecap="butt"/>
<line x1="1475.00" y1="2496.40" x2="1475.00" y2="2502.90" stroke="#18189e" stroke-width="3.6" stroke-linecap="butt"/>
<line x1="1479.50" y1="2514.50" x2="1479.50" y2="2521.00" stroke="#18189e" stroke-width="3.6" stroke-linecap="butt"/>
<line x1="1503.40" y1="2548.50" x2="1503.40" y2="2555.00" stroke="#18189e" stroke-width="3.6" stroke-linecap="butt"/>
<line x1="1557.00" y1="2552.90" x2="1557.00" y2="2559.40" stroke="#18189e" stroke-width="3.6" stroke-linecap="butt"/>
<path d="M1400.9,2454.4 L1430.0,2454.4 L1430.0,2459.0 L1433.0,2459.0 L1433.0,2464.0 L1436.5,2464.0 L1436.5,2469.0 L1439.0,2469.0 L1439.0,2474.2 L1444.6,2474.2 L1444.6,2483.3 L1455.9,2483.3 L1455.9,2492.0 L1458.3,2492.0 L1458.3,2502.9 L1583.3,2502.9 L1583.3,2525.4 L1601.6,2525.4 L1601.6,2547.5 L1616.4,2547.5" stroke="#951414" stroke-width="2.4" fill="none" stroke-linejoin="miter"/>
<line x1="1402.50" y1="2447.90" x2="1402.50" y2="2454.40" stroke="#951414" stroke-width="3.6" stroke-linecap="butt"/>
<line x1="1405.00" y1="2447.90" x2="1405.00" y2="2454.40" stroke="#951414" stroke-width="3.6" stroke-linecap="butt"/>
<line x1="1411.50" y1="2447.90" x2="1411.50" y2="2454.40" stroke="#951414" stroke-width="3.6" stroke-linecap="butt"/>
<line x1="1420.00" y1="2447.90" x2="1420.00" y2="2454.40" stroke="#951414" stroke-width="3.6" stroke-linecap="butt"/>
<line x1="1422.00" y1="2447.90" x2="1422.00" y2="2454.40" stroke="#951414" stroke-width="3.6" stroke-linecap="butt"/>
<line x1="1425.00" y1="2447.90" x2="1425.00" y2="2454.40" stroke="#951414" stroke-width="3.6" stroke-linecap="butt"/>
<line x1="1428.00" y1="2447.90" x2="1428.00" y2="2454.40" stroke="#951414" stroke-width="3.6" stroke-linecap="butt"/>
<line x1="1431.00" y1="2452.50" x2="1431.00" y2="2459.00" stroke="#951414" stroke-width="3.6" stroke-linecap="butt"/>
<line x1="1446.00" y1="2476.80" x2="1446.00" y2="2483.30" stroke="#951414" stroke-width="3.6" stroke-linecap="butt"/>
<line x1="1449.00" y1="2476.80" x2="1449.00" y2="2483.30" stroke="#951414" stroke-width="3.6" stroke-linecap="butt"/>
<line x1="1453.00" y1="2476.80" x2="1453.00" y2="2483.30" stroke="#951414" stroke-width="3.6" stroke-linecap="butt"/>
<line x1="1459.90" y1="2496.40" x2="1459.90" y2="2502.90" stroke="#951414" stroke-width="3.6" stroke-linecap="butt"/>
<line x1="1462.00" y1="2496.40" x2="1462.00" y2="2502.90" stroke="#951414" stroke-width="3.6" stroke-linecap="butt"/>
<line x1="1464.40" y1="2496.40" x2="1464.40" y2="2502.90" stroke="#951414" stroke-width="3.6" stroke-linecap="butt"/>
<line x1="1472.00" y1="2496.40" x2="1472.00" y2="2502.90" stroke="#951414" stroke-width="3.6" stroke-linecap="butt"/>
<line x1="1474.50" y1="2496.40" x2="1474.50" y2="2502.90" stroke="#951414" stroke-width="3.6" stroke-linecap="butt"/>
<line x1="1476.70" y1="2496.40" x2="1476.70" y2="2502.90" stroke="#951414" stroke-width="3.6" stroke-linecap="butt"/>
<line x1="1497.30" y1="2496.40" x2="1497.30" y2="2502.90" stroke="#951414" stroke-width="3.6" stroke-linecap="butt"/>
<line x1="1540.50" y1="2496.40" x2="1540.50" y2="2502.90" stroke="#951414" stroke-width="3.6" stroke-linecap="butt"/>
<line x1="1583.30" y1="2514.50" x2="1583.30" y2="2521.00" stroke="#951414" stroke-width="3.6" stroke-linecap="butt"/>
<line x1="1601.80" y1="2537.00" x2="1601.80" y2="2543.50" stroke="#951414" stroke-width="3.6" stroke-linecap="butt"/>
<line x1="1615.80" y1="2541.00" x2="1615.80" y2="2547.50" stroke="#951414" stroke-width="3.6" stroke-linecap="butt"/>
</svg>
</body></html>
